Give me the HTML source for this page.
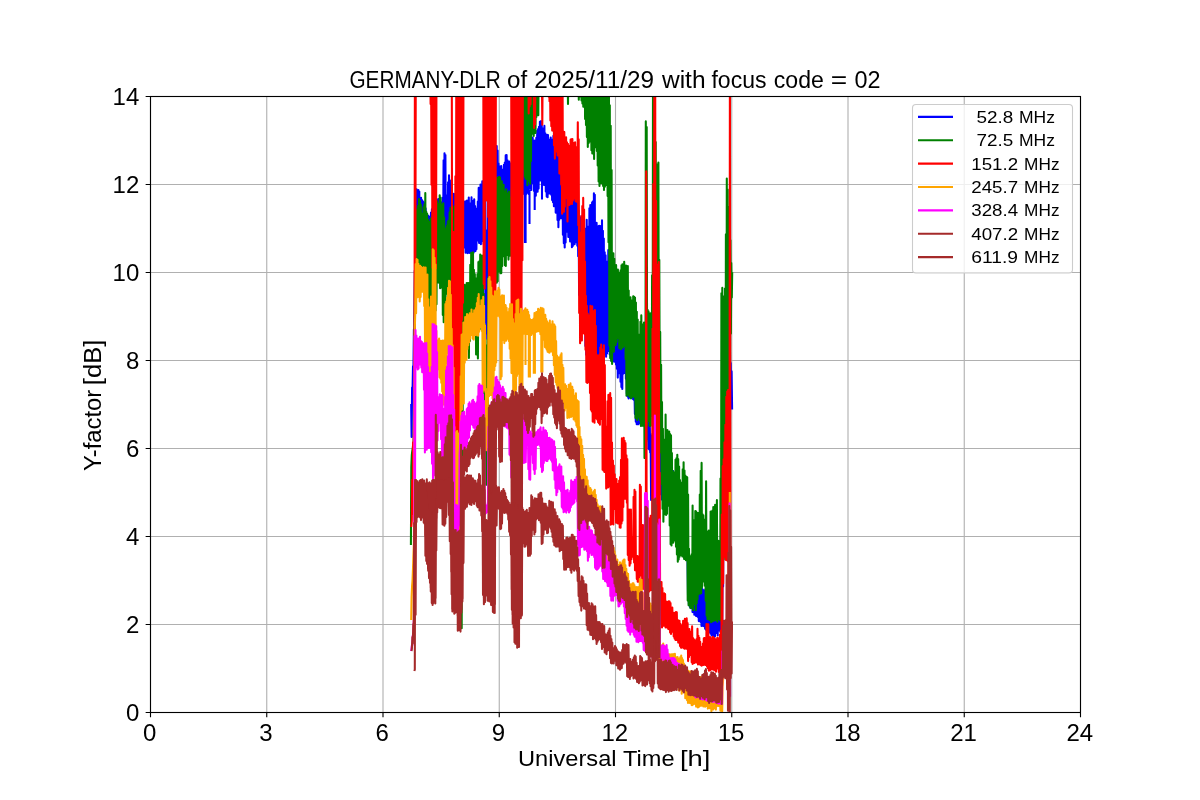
<!DOCTYPE html><html><head><meta charset="utf-8"><style>html,body{margin:0;padding:0;background:#fff}svg{display:block;position:absolute;left:0;top:0}text{font-family:"Liberation Sans",sans-serif;fill:#000}svg{will-change:transform}</style></head><body>
<svg width="1200" height="800" viewBox="0 0 1200 800">
<rect width="1200" height="800" fill="#fff"/>
<path d="M150.50 96.5V712.5M266.75 96.5V712.5M383.00 96.5V712.5M499.25 96.5V712.5M615.50 96.5V712.5M731.75 96.5V712.5M848.00 96.5V712.5M964.25 96.5V712.5M1080.50 96.5V712.5M150.5 712.50H1080.5M150.5 624.50H1080.5M150.5 536.50H1080.5M150.5 448.50H1080.5M150.5 360.50H1080.5M150.5 272.50H1080.5M150.5 184.50H1080.5M150.5 96.50H1080.5" stroke="#b0b0b0" stroke-width="1.11" fill="none"/>
<defs><clipPath id="c"><rect x="150.5" y="96.5" width="930" height="616"/></clipPath></defs>
<g clip-path="url(#c)" fill="none" stroke-width="2.08" stroke-linejoin="round" stroke-linecap="butt">
<path stroke="#0000ff" d="M411.2 404.0L411.6 437.0L412.1 387.5L412.5 393.0L413.0 366.2L413.4 371.7L413.9 329.4L414.3 358.4L414.8 270.7L415.2 274.4L415.7 189.6L416.1 234.1L416.6 189.3L417.0 231.9L417.5 192.6L417.9 235.8L418.4 190.1L418.8 236.4L419.3 191.6L419.7 234.8L420.2 202.4L420.6 237.7L421.1 197.9L421.5 236.3L422.0 200.0L422.4 238.9L422.9 201.2L423.3 238.9L423.8 202.4L424.2 236.2L424.7 205.3L425.1 237.6L425.6 208.4L426.0 232.1L426.5 213.6L426.9 234.7L427.4 215.3L427.8 234.8L428.3 215.9L428.7 235.9L429.2 217.4L429.6 235.4L430.1 216.5L430.5 235.7L431.0 212.5L431.4 237.8L431.9 209.4L432.3 233.9L432.8 211.9L433.2 233.3L433.7 206.1L434.1 239.3L434.6 204.4L435.0 239.4L435.5 208.1L435.9 239.7L436.4 201.3L436.8 232.0L437.3 200.0L437.7 233.5L438.2 199.1L438.6 238.0L439.1 199.4L439.5 237.9L440.0 203.6L440.4 236.6L440.9 202.5L441.3 236.2L441.8 202.3L442.2 230.8L442.7 197.8L443.1 229.6L443.6 160.3L444.0 235.0L444.5 153.2L444.9 235.6L445.4 155.1L445.8 231.8L446.3 195.3L446.7 224.6L447.2 199.8L447.6 222.5L448.1 182.2L448.5 219.0L449.0 175.2L449.4 214.6L449.9 180.3L450.3 215.4L450.8 190.9L451.2 229.7L451.7 190.8L452.1 225.4L452.6 196.0L453.0 227.4L453.5 193.9L453.9 234.5L454.4 194.3L454.8 235.9L455.3 194.4L455.7 237.3L456.2 196.9L456.6 238.6L457.1 203.6L457.5 235.3L458.0 196.9L458.4 232.6L458.9 196.7L459.3 242.2L459.8 197.5L460.2 242.4L460.7 198.6L461.1 244.0L461.6 204.1L462.0 238.7L462.5 202.4L462.9 241.3L463.4 201.9L463.8 241.8L464.3 203.9L464.7 247.6L465.2 201.3L465.6 252.8L466.1 201.7L466.5 249.9L467.0 200.6L467.4 253.1L467.9 200.9L468.3 251.2L468.8 197.6L469.2 252.9L469.7 203.4L470.1 242.7L470.6 206.3L471.0 253.0L471.5 197.4L471.9 253.9L472.4 200.7L472.8 249.0L473.3 203.5L473.7 252.6L474.2 199.2L474.6 250.2L475.1 206.1L475.5 251.1L476.0 208.6L476.4 249.3L476.9 210.4L477.3 240.5L477.8 201.5L478.2 240.0L478.7 187.9L479.1 242.9L479.6 193.1L480.0 238.8L480.5 184.5L480.9 244.3L481.4 184.8L481.8 234.1L482.3 181.4L482.7 240.9L483.2 184.3L483.6 244.1L484.1 192.0L484.5 244.4L485.0 190.0L485.4 322.5L485.9 232.1L486.3 333.4L486.8 230.3L487.2 339.0L487.7 199.3L488.1 245.0L488.6 194.9L489.0 236.2L489.5 189.0L489.9 234.2L490.4 182.5L490.8 229.8L491.3 175.1L491.7 221.3L492.2 167.6L492.6 217.0L493.1 170.2L493.5 212.3L494.0 159.2L494.4 204.4L494.9 154.9L495.3 198.1L495.8 146.2L496.2 199.9L496.7 146.0L497.1 193.1L497.6 150.5L498.0 199.8L498.5 163.5L498.9 196.7L499.4 166.4L499.8 194.8L500.3 168.3L500.7 199.2L501.2 166.1L501.6 199.2L502.1 173.9L502.5 199.4L503.0 169.6L503.4 195.2L503.9 164.9L504.3 197.6L504.8 162.5L505.2 198.9L505.7 155.4L506.1 198.9L506.6 155.1L507.0 194.4L507.5 160.3L507.9 197.2L508.4 165.5L508.8 199.4L509.3 161.5L509.7 200.0L510.2 163.3L510.6 192.3L511.1 172.3L511.5 196.3L512.0 172.1L512.4 197.2L512.9 165.7L513.3 196.8L513.8 163.9L514.2 194.0L514.7 164.2L515.1 194.2L515.6 169.4L516.0 197.1L516.5 164.6L516.9 193.8L517.4 167.3L517.8 193.0L518.3 162.8L518.7 193.7L519.2 161.8L519.6 193.8L520.1 167.9L520.5 188.4L521.0 161.0L521.4 192.6L521.9 163.3L522.3 194.2L522.8 166.8L523.2 193.8L523.7 158.8L524.1 193.0L524.6 158.4L525.0 190.6L525.5 160.5L525.9 195.0L526.4 156.4L526.8 192.8L527.3 152.3L527.7 192.0L528.2 149.8L528.6 193.9L529.1 155.3L529.5 188.6L530.0 148.6L530.4 183.3L530.9 144.4L531.3 189.9L531.8 138.1L532.2 182.9L532.7 137.6L533.1 180.7L533.6 142.6L534.0 191.0L534.5 140.6L534.9 194.4L535.4 141.7L535.8 195.7L536.3 137.8L536.7 186.9L537.2 130.8L537.6 191.8L538.1 129.1L538.6 188.6L539.0 126.9L539.5 174.0L539.9 121.7L540.4 180.5L540.8 121.2L541.3 178.3L541.7 121.5L542.2 185.1L542.6 132.2L543.1 182.8L543.5 128.2L544.0 184.9L544.4 125.9L544.9 179.7L545.3 133.2L545.8 191.5L546.2 138.9L546.7 196.6L547.1 134.7L547.6 197.2L548.0 135.1L548.5 189.4L548.9 139.9L549.4 193.5L549.8 139.5L550.3 183.2L550.7 137.5L551.2 194.8L551.6 144.7L552.1 200.1L552.5 139.5L553.0 202.2L553.4 135.9L553.9 206.2L554.3 146.0L554.8 204.7L555.2 143.2L555.7 212.6L556.1 150.8L556.6 211.6L557.0 155.3L557.5 220.0L557.9 148.6L558.4 227.3L558.8 149.5L559.3 219.8L559.7 151.7L560.2 218.2L560.6 159.4L561.1 209.9L561.5 163.1L562.0 218.5L562.4 171.7L562.9 234.7L563.3 178.0L563.8 243.2L564.2 183.5L564.7 247.5L565.1 177.7L565.6 242.4L566.0 187.0L566.5 229.9L566.9 181.1L567.4 231.8L567.8 185.6L568.3 236.9L568.7 185.2L569.2 236.4L569.6 187.6L570.1 241.5L570.5 190.1L571.0 240.7L571.4 196.0L571.9 247.3L572.3 194.6L572.8 245.9L573.2 194.8L573.7 236.0L574.1 203.1L574.6 244.2L575.0 197.1L575.5 242.2L575.9 199.5L576.4 234.7L576.8 197.8L577.3 245.8L577.7 203.4L578.2 256.3L578.6 210.6L579.1 295.0L579.5 216.0L580.0 306.7L580.4 226.8L580.9 311.9L581.3 217.5L581.8 319.3L582.2 223.4L582.7 323.6L583.1 220.6L583.6 321.4L584.0 229.8L584.5 332.6L584.9 229.4L585.4 345.9L585.8 228.5L586.3 354.8L586.7 219.7L587.2 352.7L587.6 226.5L588.1 356.6L588.5 230.4L589.0 357.9L589.4 208.2L589.9 352.7L590.3 205.1L590.8 359.7L591.2 206.5L591.7 359.2L592.1 202.4L592.6 361.2L593.0 201.4L593.5 360.3L593.9 193.2L594.4 360.9L594.8 194.7L595.3 364.3L595.7 231.4L596.2 357.7L596.6 222.7L597.1 367.3L597.5 233.8L598.0 357.3L598.4 226.4L598.9 362.3L599.3 225.9L599.8 362.4L600.2 226.0L600.7 357.0L601.1 227.2L601.6 357.1L602.0 220.4L602.5 361.2L602.9 230.9L603.4 355.2L603.8 238.5L604.3 353.1L604.7 252.3L605.2 353.6L605.6 255.2L606.1 356.7L606.5 261.5L607.0 353.5L607.4 265.1L607.9 350.9L608.3 250.0L608.8 349.5L609.2 250.9L609.7 354.5L610.1 252.5L610.6 357.5L611.0 261.0L611.5 360.7L611.9 270.1L612.4 360.3L612.8 285.1L613.3 361.4L613.7 287.8L614.2 358.5L614.6 305.9L615.1 362.0L615.5 305.0L616.0 364.5L616.4 307.3L616.9 368.7L617.3 312.1L617.8 377.6L618.2 315.8L618.7 372.3L619.1 326.7L619.6 373.3L620.0 326.5L620.5 381.7L620.9 328.0L621.4 387.1L621.8 332.8L622.3 388.9L622.7 332.8L623.2 373.8L623.6 338.7L624.1 370.8L624.5 340.5L625.0 373.1L625.4 342.3L625.9 378.7L626.3 351.9L626.8 393.5L627.2 361.7L627.7 396.6L628.1 366.7L628.6 398.4L629.0 367.0L629.5 397.5L629.9 374.3L630.4 396.2L630.8 372.5L631.3 395.8L631.7 376.8L632.2 396.2L632.6 377.6L633.1 399.3L633.5 380.2L634.0 400.0L634.4 387.3L634.9 414.1L635.3 400.8L635.8 421.6L636.2 403.4L636.7 424.2L637.1 401.6L637.6 424.1L638.0 402.6L638.5 424.2L638.9 407.1L639.4 423.3L639.8 408.5L640.3 422.7L640.7 408.5L641.2 422.7L641.6 407.2L642.1 425.0L642.5 408.7L643.0 424.9L643.4 410.8L643.9 425.0L644.3 410.4L644.8 426.3L645.2 410.4L645.7 434.2L646.1 405.8L646.6 432.5L647.0 404.0L647.5 439.2L647.9 409.9L648.4 448.8L648.8 404.7L649.3 449.4L649.7 417.0L650.2 452.5L650.6 435.5L651.1 500.1L651.5 470.6L652.0 467.7L652.4 433.7L652.9 439.6L653.3 395.2L653.8 406.0L654.2 364.4L654.7 375.6L655.1 327.4L655.6 343.3L656.0 294.7L656.5 335.6L656.9 307.3L657.4 366.0L657.8 344.9L658.3 415.6L658.7 383.9L659.2 459.1L659.6 422.5L660.1 491.3L660.5 449.0L661.0 494.5L661.4 447.3L661.9 499.6L662.3 449.3L662.8 497.2L663.2 453.4L663.7 499.8L664.1 453.2L664.6 501.6L665.0 453.6L665.5 493.9L665.9 457.0L666.4 499.3L666.8 467.6L667.3 502.8L667.7 463.3L668.2 502.1L668.6 464.1L669.1 501.6L669.5 469.1L670.0 496.9L670.4 471.3L670.9 503.9L671.3 474.5L671.8 477.4L672.2 471.1L672.7 476.8L673.1 471.0L673.6 512.9L674.0 483.4L674.5 521.2L674.9 484.3L675.4 529.1L675.8 490.7L676.3 533.4L676.7 494.3L677.2 532.9L677.6 493.0L678.1 538.9L678.5 496.2L679.0 539.2L679.4 504.4L679.9 543.9L680.3 502.1L680.8 542.8L681.2 504.0L681.7 549.7L682.1 508.2L682.6 550.8L683.0 515.3L683.5 554.2L683.9 518.4L684.4 547.1L684.8 521.2L685.3 555.5L685.7 519.1L686.2 551.2L686.6 532.6L687.1 558.5L687.5 555.3L688.0 595.1L688.4 563.5L688.9 604.2L689.3 562.1L689.8 606.7L690.2 561.7L690.7 608.0L691.1 563.6L691.6 605.6L692.0 563.8L692.5 612.1L692.9 566.8L693.4 608.1L693.8 567.2L694.3 614.7L694.7 569.1L695.2 613.0L695.6 573.8L696.1 616.1L696.5 572.3L697.0 613.7L697.4 579.7L697.9 617.0L698.3 583.1L698.8 621.1L699.2 579.6L699.7 621.1L700.1 585.0L700.6 622.0L701.0 588.6L701.5 625.9L701.9 588.3L702.4 625.1L702.8 589.6L703.3 626.1L703.7 591.7L704.2 625.9L704.6 590.3L705.1 628.7L705.5 589.3L706.0 629.8L706.4 598.6L706.9 627.1L707.3 600.1L707.8 631.4L708.2 593.9L708.7 632.3L709.1 594.9L709.6 630.7L710.0 604.2L710.5 633.5L710.9 598.6L711.4 635.1L711.8 599.7L712.3 636.0L712.7 605.4L713.2 632.9L713.6 601.1L714.1 636.7L714.5 604.6L715.0 636.3L715.4 607.4L715.9 629.4L716.3 606.0L716.8 633.0L717.2 608.1L717.7 635.5L718.1 610.1L718.6 630.4L719.0 605.9L719.5 630.0L719.9 604.0L720.4 631.9L720.8 604.4L721.3 628.5L721.7 592.8L722.2 624.0L722.6 562.4L723.1 586.4L723.5 505.0L724.0 532.3L724.4 413.0L724.9 496.8L725.3 394.8L725.8 463.7L726.2 340.7L726.7 424.1L727.1 304.1L727.6 406.7L728.0 301.4L728.5 388.2L728.9 309.6L729.4 383.1L729.8 327.6L730.3 390.2L730.7 363.0L731.2 395.8L731.6 371.4L732.1 409.4M524.9 190.0V243.0M525.6 190.0V243.0M529.5 190.0V224.0M534.7 188.0V210.0M542.0 180.0V199.5"/>
<path stroke="#008000" d="M410.9 545.0L411.3 466.7L411.8 455.0L412.2 451.6L412.7 448.3L413.1 444.9L413.6 441.5L414.0 405.0L414.5 342.0L414.9 282.4L415.4 229.5L415.8 223.0L416.3 210.1L416.7 265.4L417.2 209.2L417.6 262.6L418.1 205.7L418.5 264.9L419.0 199.1L419.4 266.5L419.9 200.7L420.3 272.0L420.8 204.5L421.2 261.7L421.7 213.6L422.1 272.1L422.6 219.3L423.0 272.7L423.5 207.0L423.9 272.3L424.4 204.4L424.8 274.1L425.3 193.0L425.7 275.4L426.2 211.5L426.6 278.2L427.1 213.5L427.5 283.5L428.0 219.7L428.4 302.9L428.9 221.7L429.3 310.6L429.8 233.7L430.2 300.1L430.7 218.5L431.1 299.6L431.6 217.9L432.0 293.4L432.5 213.3L432.9 285.3L433.4 217.6L433.8 289.5L434.3 209.0L434.7 304.1L435.2 205.9L435.6 310.4L436.1 207.3L436.5 304.3L437.0 201.3L437.4 280.6L437.9 204.8L438.3 282.6L438.8 203.5L439.2 281.6L439.7 195.2L440.1 288.3L440.6 197.5L441.0 287.6L441.5 207.8L441.9 285.9L442.4 204.6L442.8 315.0L443.3 203.2L443.7 322.2L444.2 217.2L444.6 314.7L445.1 240.3L445.5 307.7L446.0 228.2L446.4 290.2L446.9 225.6L447.3 293.7L447.8 221.2L448.2 299.9L448.7 220.5L449.1 297.7L449.6 212.3L450.0 299.2L450.5 207.8L450.9 307.6L451.4 209.1L451.8 386.0L452.3 215.9L452.7 468.0L453.2 210.6L453.6 476.0L454.1 206.3L454.5 475.2L455.0 221.0L455.4 469.0L455.9 247.5L456.3 447.0L456.8 274.3L457.2 463.4L457.7 288.7L458.1 512.7L458.6 281.5L459.0 571.6L459.5 280.0L459.9 619.5L460.4 290.4L460.8 627.3L461.3 280.7L461.7 628.3L462.2 285.2L462.6 435.0L463.1 283.1L463.5 327.7L464.0 284.7L464.4 323.3L464.9 285.0L465.3 327.1L465.8 290.3L466.2 329.5L466.7 283.1L467.1 329.8L467.6 283.4L468.0 332.4L468.5 283.0L468.9 358.0L469.4 285.9L469.8 341.1L470.3 264.8L470.7 320.0L471.2 252.8L471.6 329.9L472.1 259.6L472.5 329.2L473.0 252.4L473.4 329.4L473.9 269.9L474.3 323.2L474.8 274.0L475.2 328.9L475.7 279.6L476.1 354.5L476.6 278.2L477.0 351.1L477.5 274.1L477.9 358.5L478.4 262.1L478.8 324.2L479.3 261.2L479.7 329.3L480.2 254.5L480.6 320.6L481.1 259.2L481.5 325.1L482.0 255.5L482.4 323.2L482.9 273.5L483.3 363.5L483.8 293.9L484.2 409.9L484.7 324.9L485.1 452.3L485.6 340.0L486.0 484.7L486.5 345.2L486.9 484.6L487.4 355.9L487.8 435.8L488.3 278.1L488.7 302.3L489.2 205.5L489.6 277.3L490.1 196.5L490.5 276.1L491.0 193.8L491.4 279.8L491.9 191.0L492.3 280.1L492.8 194.3L493.2 272.8L493.7 189.1L494.1 274.0L494.6 184.2L495.0 282.8L495.5 186.0L495.9 277.7L496.4 177.9L496.8 282.7L497.3 180.3L497.7 281.3L498.2 177.6L498.6 268.9L499.1 177.1L499.5 271.5L500.0 177.6L500.4 273.3L500.9 185.2L501.3 273.1L501.8 181.2L502.2 266.1L502.7 184.7L503.1 255.3L503.6 184.8L504.0 256.3L504.5 193.8L504.9 265.3L505.4 191.4L505.8 266.0L506.3 189.4L506.7 255.1L507.2 194.6L507.6 248.7L508.1 193.2L508.5 259.6L509.0 191.5L509.4 252.7L509.9 199.2L510.3 255.8L510.8 197.6L511.2 253.4L511.7 188.7L512.1 245.9L512.6 176.2L513.0 237.1L513.5 169.6L513.9 231.3L514.4 156.9L514.8 230.1L515.3 148.1L515.7 217.6L516.2 135.6L516.6 208.8L517.1 133.6L517.5 206.7L518.0 120.3L518.4 199.8L518.9 105.8L519.3 195.6L519.8 95.6L520.2 193.7L520.7 86.8L521.1 188.6L521.6 86.2L522.0 174.4L522.5 69.9L522.9 169.0L523.4 62.4L523.8 169.3L524.3 60.6L524.7 176.5L525.2 63.0L525.6 178.8L526.1 61.1L526.5 178.3L527.0 61.7L527.4 185.2L527.9 64.7L528.3 180.8L528.8 68.4L529.2 178.4L529.7 62.3L530.1 183.8L530.6 68.0L531.0 161.1L531.5 60.0L531.9 133.8L532.4 60.2L532.8 129.5L533.3 60.0L533.7 135.9L534.2 61.7L534.6 130.9L535.1 61.0L535.5 132.9L536.0 69.9L536.4 116.9L536.9 60.0L537.4 112.5L537.8 60.3L538.3 115.2L538.7 61.0L539.2 78.6L539.6 61.8L540.1 79.8L540.5 60.6L541.0 80.0L541.4 60.3L541.9 79.3L542.3 61.6L542.8 79.1L543.2 61.9L543.7 76.9L544.1 60.5L544.6 77.9L545.0 63.8L545.5 75.8L545.9 60.0L546.4 77.4L546.8 60.9L547.3 79.9L547.7 63.5L548.2 78.7L548.6 62.1L549.1 79.8L549.5 60.2L550.0 79.7L550.4 60.9L550.9 80.0L551.3 61.9L551.8 76.0L552.2 64.3L552.7 79.8L553.1 60.0L553.6 78.6L554.0 60.3L554.5 78.0L554.9 62.2L555.4 76.7L555.8 60.3L556.3 76.6L556.7 62.9L557.2 75.9L557.6 64.3L558.1 79.5L558.5 61.3L559.0 78.3L559.4 61.6L559.9 75.7L560.3 62.3L560.8 79.4L561.2 60.1L561.7 77.4L562.1 60.0L562.6 77.8L563.0 61.6L563.5 80.0L563.9 60.7L564.4 78.3L564.8 60.1L565.3 80.0L565.7 61.8L566.2 79.2L566.6 61.1L567.1 83.0L567.5 60.4L568.0 103.9L568.4 61.6L568.9 80.0L569.3 61.3L569.8 79.9L570.2 64.4L570.7 78.3L571.1 61.0L571.6 79.0L572.0 60.4L572.5 79.9L572.9 60.0L573.4 79.7L573.8 61.6L574.3 77.8L574.7 61.9L575.2 79.6L575.6 62.4L576.1 77.5L576.5 63.6L577.0 78.7L577.4 60.1L577.9 83.6L578.3 62.7L578.8 99.7L579.2 64.3L579.7 92.8L580.1 60.0L580.6 96.4L581.0 66.2L581.5 100.5L581.9 60.3L582.4 103.5L582.8 60.1L583.3 106.8L583.7 66.0L584.2 106.0L584.6 64.8L585.1 119.0L585.5 60.7L586.0 125.1L586.4 61.2L586.9 137.1L587.3 61.9L587.8 147.0L588.2 60.9L588.7 143.0L589.1 60.4L589.6 138.3L590.0 64.2L590.5 141.5L590.9 60.7L591.4 150.2L591.8 60.4L592.3 153.4L592.7 64.2L593.2 151.6L593.6 63.3L594.1 158.9L594.5 67.0L595.0 147.2L595.4 60.0L595.9 139.7L596.3 66.5L596.8 151.0L597.2 63.4L597.7 165.5L598.1 60.5L598.6 181.5L599.0 63.0L599.5 185.9L599.9 60.6L600.4 183.3L600.8 68.6L601.3 172.5L601.7 60.0L602.2 183.4L602.6 63.6L603.1 186.0L603.5 67.2L604.0 190.0L604.4 65.9L604.9 186.7L605.3 60.5L605.8 185.0L606.2 65.9L606.7 175.1L607.1 61.4L607.6 196.1L608.0 68.3L608.5 242.2L608.9 60.1L609.4 345.6L609.8 105.3L610.3 358.2L610.7 125.7L611.2 360.9L611.6 170.1L612.1 364.0L612.5 257.3L613.0 348.3L613.4 253.4L613.9 351.6L614.3 258.8L614.8 341.2L615.2 270.8L615.7 345.0L616.1 265.1L616.6 342.1L617.0 273.6L617.5 337.9L617.9 269.5L618.4 336.4L618.8 280.1L619.3 348.3L619.7 272.5L620.2 347.6L620.6 270.4L621.1 349.2L621.5 265.2L622.0 347.7L622.4 264.4L622.9 347.5L623.3 265.6L623.8 344.8L624.2 261.8L624.7 345.6L625.1 268.9L625.6 358.9L626.0 265.5L626.5 395.8L626.9 267.8L627.4 394.8L627.8 266.1L628.3 394.4L628.7 290.5L629.2 396.4L629.6 306.8L630.1 397.0L630.5 297.3L631.0 398.4L631.4 302.5L631.9 397.2L632.3 300.2L632.8 389.1L633.2 296.3L633.7 396.2L634.1 296.7L634.6 397.6L635.0 297.6L635.5 418.0L635.9 302.6L636.4 416.8L636.8 311.8L637.3 420.1L637.7 319.6L638.2 417.6L638.6 342.1L639.1 416.6L639.5 334.5L640.0 420.2L640.4 321.8L640.9 426.0L641.3 315.4L641.8 425.6L642.2 324.7L642.7 425.8L643.1 324.2L643.6 418.7L644.0 322.6L644.5 458.0L644.9 330.8L645.4 458.2L645.8 121.4L646.3 441.6L646.7 127.0L647.2 425.8L647.6 309.7L648.1 417.5L648.5 311.2L649.0 421.0L649.4 314.7L649.9 426.0L650.3 313.4L650.8 425.7L651.2 327.6L651.7 415.9L652.1 275.2L652.6 414.6L653.0 70.3L653.5 419.9L653.9 76.2L654.4 411.2L654.8 106.0L655.3 417.5L655.7 142.1L656.2 419.8L656.6 168.2L657.1 417.1L657.5 164.3L658.0 418.2L658.4 162.6L658.9 419.4L659.3 259.9L659.8 419.8L660.2 331.9L660.7 452.5L661.1 364.7L661.6 484.1L662.0 402.1L662.5 508.7L662.9 428.8L663.4 521.8L663.8 440.2L664.3 514.2L664.7 439.5L665.2 513.0L665.6 414.5L666.1 515.0L666.5 433.0L667.0 513.8L667.4 430.1L667.9 503.6L668.3 439.4L668.8 505.7L669.2 431.6L669.7 525.4L670.1 434.0L670.6 544.2L671.0 435.3L671.5 545.5L671.9 453.1L672.4 540.1L672.8 471.1L673.3 542.6L673.7 472.3L674.2 539.3L674.6 473.9L675.1 540.5L675.5 459.7L676.0 546.7L676.4 458.4L676.9 554.5L677.3 454.8L677.8 561.8L678.2 459.1L678.7 559.4L679.1 466.5L679.6 556.7L680.0 480.0L680.5 548.7L680.9 486.5L681.4 555.1L681.8 482.6L682.3 556.4L682.7 469.4L683.2 550.2L683.6 462.2L684.1 558.9L684.5 470.6L685.0 557.4L685.4 475.5L685.9 560.2L686.3 476.7L686.8 555.6L687.2 477.3L687.7 600.6L688.1 494.5L688.6 605.3L689.0 548.7L689.5 598.4L689.9 556.2L690.4 608.1L690.8 556.1L691.3 606.1L691.7 554.3L692.2 607.9L692.6 505.5L693.1 610.2L693.5 521.2L694.0 598.4L694.4 520.1L694.9 604.0L695.3 511.0L695.8 610.3L696.2 511.6L696.7 603.2L697.1 512.9L697.6 599.3L698.0 516.9L698.5 594.3L698.9 512.7L699.4 587.3L699.8 494.6L700.3 593.6L700.7 470.8L701.2 593.2L701.6 462.9L702.1 587.1L702.5 514.2L703.0 581.4L703.4 515.4L703.9 579.6L704.3 519.5L704.8 585.7L705.2 520.9L705.7 600.8L706.1 481.3L706.6 615.6L707.0 539.0L707.5 618.9L707.9 531.5L708.4 609.7L708.8 530.5L709.3 619.9L709.7 534.3L710.2 620.0L710.6 511.6L711.1 622.3L711.5 516.1L712.0 621.5L712.4 510.6L712.9 621.3L713.3 507.1L713.8 614.7L714.2 516.6L714.7 620.5L715.1 504.9L715.6 612.8L716.0 509.8L716.5 620.3L716.9 500.1L717.4 621.8L717.8 540.5L718.3 618.7L718.7 541.1L719.2 619.0L719.6 550.5L720.1 620.5L720.5 478.6L721.0 611.2L721.4 293.2L721.9 590.4L722.3 287.9L722.8 576.9L723.2 296.3L723.7 559.4L724.1 296.3L724.6 537.9L725.0 288.6L725.5 476.7L725.9 234.3L726.4 460.6L726.8 178.6L727.3 469.8L727.7 189.6L728.2 437.0L728.6 206.8L729.1 407.0L729.5 220.2L730.0 370.6L730.4 240.3L730.9 333.6L731.3 263.0L731.8 297.6L732.2 272.2"/>
<path stroke="#ff0000" d="M411.3 527.0L411.8 520.6L412.2 479.9L412.6 514.1L413.1 442.3L413.5 457.1L414.0 423.6L414.4 414.3L414.9 67.2L415.3 296.2L415.8 60.0L416.2 60.0L416.7 60.0L417.1 60.0L417.6 60.0L418.0 60.0L418.5 60.0L418.9 60.0L419.4 60.0L419.8 60.0L420.3 60.0L420.7 60.0L421.2 60.0L421.6 60.0L422.1 60.0L422.5 60.0L423.0 60.0L423.4 60.0L423.9 60.0L424.3 60.0L424.8 60.0L425.2 60.0L425.7 60.0L426.1 60.0L426.6 60.0L427.0 60.0L427.5 60.0L427.9 60.0L428.4 60.0L428.8 60.0L429.3 60.0L429.7 93.8L430.2 67.4L430.6 104.1L431.1 65.7L431.5 184.7L432.0 68.6L432.4 267.7L432.9 60.1L433.3 280.2L433.8 63.2L434.2 290.0L434.7 69.7L435.1 285.4L435.6 68.6L436.0 268.5L436.5 60.0L436.9 60.0L437.4 60.0L437.8 60.0L438.3 60.0L438.7 60.0L439.2 60.0L439.6 60.0L440.1 60.0L440.5 60.0L441.0 60.0L441.4 60.0L441.9 60.0L442.3 60.0L442.8 60.0L443.2 60.0L443.7 60.0L444.1 60.0L444.6 60.0L445.0 60.0L445.5 60.0L445.9 60.0L446.4 60.0L446.8 60.0L447.3 60.0L447.7 60.0L448.2 60.0L448.6 60.0L449.1 60.0L449.5 60.0L450.0 60.0L450.4 60.0L450.9 60.0L451.3 60.0L451.8 69.9L452.2 356.6L452.7 235.7L453.1 380.6L453.6 232.1L454.0 411.0L454.5 236.1L454.9 432.7L455.4 176.3L455.8 447.6L456.3 61.3L456.7 451.5L457.2 66.0L457.6 450.6L458.1 60.4L458.5 448.3L459.0 65.8L459.4 449.1L459.9 60.3L460.3 409.3L460.8 65.2L461.2 355.9L461.7 60.1L462.1 319.7L462.6 61.2L463.0 302.7L463.5 60.0L463.9 60.0L464.4 60.0L464.8 60.0L465.3 60.0L465.7 60.0L466.2 60.0L466.6 60.0L467.1 60.0L467.5 60.0L468.0 60.0L468.4 60.0L468.9 60.0L469.3 60.0L469.8 60.0L470.2 60.0L470.7 60.0L471.1 60.0L471.6 60.0L472.0 60.0L472.5 60.0L472.9 60.0L473.4 60.0L473.8 60.0L474.3 60.0L474.7 60.0L475.2 60.0L475.6 60.0L476.1 60.0L476.5 60.0L477.0 60.0L477.4 60.0L477.9 60.0L478.3 60.0L478.8 60.0L479.2 60.0L479.7 60.0L480.1 60.0L480.6 60.0L481.0 60.0L481.5 60.0L481.9 60.0L482.4 60.0L482.8 60.0L483.3 66.9L483.7 283.9L484.2 65.5L484.6 288.6L485.1 66.3L485.5 200.6L486.0 70.9L486.4 192.1L486.9 60.2L487.3 200.8L487.8 60.6L488.2 216.9L488.7 65.8L489.1 297.6L489.6 65.3L490.0 296.0L490.5 70.7L490.9 301.5L491.4 62.3L491.8 297.7L492.3 60.0L492.7 302.8L493.2 60.0L493.6 303.6L494.1 67.0L494.5 302.9L495.0 63.9L495.4 304.3L495.9 60.0L496.3 60.0L496.8 60.0L497.2 60.0L497.7 60.0L498.1 60.0L498.6 60.0L499.0 60.0L499.5 60.0L499.9 60.0L500.4 60.0L500.8 60.0L501.3 60.0L501.7 60.0L502.2 60.0L502.6 60.0L503.1 60.0L503.5 60.0L504.0 60.0L504.4 60.0L504.9 60.0L505.3 60.0L505.8 60.0L506.2 60.0L506.7 60.0L507.1 60.0L507.6 60.0L508.0 60.0L508.5 60.0L508.9 60.0L509.4 60.0L509.8 60.0L510.3 60.0L510.7 60.0L511.2 60.0L511.6 328.8L512.1 70.7L512.5 329.7L513.0 70.2L513.4 326.7L513.9 60.0L514.3 329.5L514.8 61.5L515.2 329.8L515.7 60.7L516.1 329.6L516.6 62.9L517.0 322.2L517.5 66.4L517.9 323.4L518.4 65.8L518.8 319.9L519.3 66.5L519.7 329.5L520.2 60.9L520.6 330.0L521.1 61.8L521.5 321.9L522.0 60.4L522.4 260.2L522.9 60.0L523.3 60.0L523.8 60.0L524.2 60.0L524.7 60.0L525.1 60.0L525.6 60.0L526.0 60.0L526.5 60.0L526.9 60.0L527.4 60.0L527.8 60.0L528.3 60.0L528.7 113.5L529.2 64.7L529.6 106.5L530.1 64.3L530.5 104.3L531.0 60.0L531.4 60.0L531.9 60.0L532.3 60.0L532.8 60.0L533.2 60.0L533.7 68.5L534.1 128.0L534.6 60.1L535.0 124.5L535.5 66.6L535.9 60.0L536.4 60.0L536.9 60.0L537.3 60.0L537.8 60.0L538.2 60.0L538.7 60.0L539.1 60.0L539.6 60.0L540.0 60.0L540.5 60.0L540.9 60.0L541.4 94.1L541.8 67.0L542.3 124.7L542.7 67.5L543.2 75.0L543.6 60.0L544.1 60.0L544.5 60.0L545.0 60.0L545.4 60.0L545.9 60.0L546.3 60.0L546.8 60.0L547.2 60.0L547.7 77.5L548.1 60.1L548.6 96.6L549.0 60.4L549.5 101.2L549.9 63.2L550.4 120.5L550.8 69.0L551.3 126.2L551.7 60.3L552.2 130.6L552.6 60.0L553.1 127.8L553.5 60.7L554.0 145.2L554.4 65.6L554.9 158.6L555.3 60.2L555.8 150.9L556.2 60.3L556.7 151.5L557.1 61.9L557.6 155.5L558.0 61.2L558.5 149.9L558.9 62.0L559.4 173.5L559.8 61.2L560.3 166.7L560.7 67.0L561.2 184.5L561.6 64.4L562.1 213.7L562.5 60.1L563.0 210.1L563.4 131.6L563.9 211.8L564.3 132.0L564.8 206.6L565.2 140.7L565.7 198.1L566.1 137.3L566.6 188.8L567.0 142.3L567.5 221.4L567.9 143.8L568.4 199.2L568.8 146.8L569.3 204.9L569.7 145.5L570.2 204.1L570.6 139.6L571.1 199.0L571.5 139.3L572.0 203.9L572.4 139.1L572.9 200.4L573.3 142.7L573.8 193.9L574.2 147.2L574.7 198.4L575.1 142.3L575.6 201.1L576.0 149.3L576.5 201.7L576.9 147.0L577.4 196.1L577.8 122.3L578.3 225.3L578.7 139.4L579.2 313.0L579.6 234.1L580.1 343.3L580.5 232.6L581.0 337.8L581.4 216.1L581.9 340.4L582.3 206.1L582.8 329.5L583.2 197.9L583.7 332.9L584.1 209.6L584.6 334.3L585.0 261.6L585.5 349.7L585.9 295.9L586.4 382.2L586.8 305.7L587.3 382.9L587.7 313.5L588.2 382.3L588.6 322.0L589.1 382.3L589.5 315.4L590.0 393.0L590.4 305.8L590.9 409.7L591.3 315.9L591.8 411.5L592.2 306.2L592.7 421.6L593.1 311.1L593.6 411.8L594.0 311.4L594.5 422.7L594.9 310.0L595.4 418.2L595.8 325.9L596.3 418.0L596.7 354.7L597.2 419.4L597.6 360.9L598.1 422.3L598.5 355.9L599.0 423.3L599.4 354.5L599.9 424.8L600.3 347.5L600.8 418.9L601.2 344.5L601.7 417.6L602.1 349.4L602.6 469.7L603.0 354.3L603.5 470.6L603.9 345.2L604.4 471.9L604.8 365.0L605.3 471.2L605.7 427.1L606.2 488.6L606.6 426.5L607.1 484.5L607.5 401.2L608.0 487.4L608.4 394.9L608.9 479.9L609.3 398.9L609.8 486.5L610.2 393.0L610.7 524.7L611.1 397.7L611.6 524.0L612.0 442.6L612.5 521.4L612.9 460.6L613.4 524.5L613.8 465.5L614.3 508.9L614.7 474.3L615.2 506.0L615.6 481.6L616.1 522.7L616.5 479.0L617.0 522.6L617.4 483.7L617.9 523.4L618.3 487.3L618.8 518.6L619.2 480.5L619.7 527.5L620.1 477.1L620.6 527.7L621.0 459.9L621.5 523.4L621.9 438.3L622.4 520.7L622.8 439.9L623.3 506.9L623.7 437.7L624.2 492.9L624.6 440.8L625.1 498.6L625.5 443.1L626.0 495.3L626.4 455.2L626.9 502.8L627.3 459.1L627.8 554.9L628.2 510.1L628.7 560.1L629.1 509.5L629.6 565.8L630.0 513.0L630.5 563.4L630.9 509.5L631.4 559.3L631.8 537.3L632.3 556.7L632.7 536.9L633.2 556.0L633.6 496.7L634.1 562.5L634.5 489.7L635.0 570.3L635.4 491.5L635.9 570.6L636.3 557.8L636.8 579.1L637.2 556.1L637.7 581.8L638.1 556.6L638.6 581.6L639.0 559.5L639.5 580.7L639.9 484.7L640.4 575.4L640.8 486.5L641.3 570.5L641.7 530.4L642.2 584.0L642.6 525.0L643.1 588.9L643.5 530.4L644.0 586.0L644.4 525.1L644.9 586.1L645.3 530.2L645.8 595.0L646.2 171.4L646.7 593.3L647.1 515.8L647.6 585.9L648.0 517.8L648.5 591.9L648.9 518.3L649.4 591.2L649.8 523.2L650.3 587.8L650.7 515.8L651.2 589.9L651.6 520.5L652.1 590.0L652.5 328.7L653.0 589.1L653.4 184.1L653.9 585.9L654.3 63.3L654.8 589.6L655.2 67.3L655.7 579.0L656.1 200.9L656.6 588.6L657.0 271.6L657.5 586.6L657.9 264.6L658.4 586.4L658.8 262.1L659.3 582.1L659.7 472.8L660.2 623.5L660.6 588.8L661.1 622.7L661.5 582.0L662.0 627.5L662.4 588.0L662.9 625.0L663.3 596.0L663.8 625.7L664.2 593.4L664.7 624.4L665.1 594.1L665.6 627.4L666.0 601.5L666.5 625.4L666.9 601.7L667.4 627.7L667.8 603.8L668.3 629.1L668.7 601.3L669.2 623.1L669.6 601.5L670.1 632.4L670.5 603.0L671.0 634.0L671.4 609.1L671.9 631.7L672.3 607.5L672.8 630.1L673.2 615.2L673.7 636.5L674.1 612.7L674.6 638.6L675.0 613.3L675.5 640.0L675.9 612.1L676.4 640.0L676.8 612.2L677.3 640.0L677.7 619.9L678.2 642.6L678.6 621.8L679.1 642.2L679.5 620.7L680.0 646.0L680.4 623.7L680.9 647.6L681.3 626.5L681.8 647.6L682.2 625.3L682.7 643.6L683.1 620.9L683.6 647.9L684.0 624.6L684.5 648.7L684.9 618.8L685.4 644.4L685.8 619.8L686.3 648.8L686.7 618.4L687.2 647.6L687.6 623.0L688.1 661.1L688.5 630.9L689.0 657.1L689.4 629.0L689.9 650.4L690.3 631.5L690.8 655.1L691.2 636.8L691.7 662.2L692.1 626.2L692.6 664.0L693.0 638.0L693.5 661.4L693.9 639.3L694.4 662.9L694.8 640.4L695.3 660.7L695.7 641.4L696.2 662.5L696.6 639.1L697.1 660.8L697.5 628.8L698.0 664.4L698.4 635.7L698.9 662.7L699.3 637.7L699.8 664.5L700.2 641.8L700.7 665.0L701.1 647.1L701.6 665.6L702.0 646.9L702.5 665.3L702.9 643.6L703.4 664.9L703.8 638.2L704.3 660.8L704.7 638.1L705.2 665.0L705.6 640.4L706.1 664.1L706.5 624.0L707.0 666.6L707.4 624.5L707.9 668.2L708.3 624.3L708.8 670.6L709.2 637.3L709.7 670.5L710.1 637.0L710.6 669.9L711.0 640.9L711.5 668.6L711.9 638.1L712.4 669.1L712.8 636.8L713.3 669.7L713.7 638.3L714.2 669.3L714.6 638.1L715.1 670.5L715.5 642.6L716.0 671.8L716.4 639.2L716.9 666.7L717.3 637.9L717.8 668.4L718.2 638.3L718.7 671.9L719.1 638.3L719.6 669.8L720.0 634.6L720.5 672.1L720.9 630.6L721.4 670.5L721.8 514.6L722.3 671.8L722.7 466.1L723.2 583.6L723.6 459.3L724.1 554.7L724.5 442.2L725.0 557.3L725.4 424.8L725.9 560.0L726.3 396.8L726.8 558.3L727.2 391.5L727.7 561.2L728.1 390.1L728.6 575.2L729.0 390.2L729.5 555.5L729.9 63.7L730.4 554.4"/>
<path stroke="#ffa500" d="M411.2 620.0L411.6 596.8L412.1 585.6L412.5 580.6L413.0 568.6L413.4 555.7L413.9 542.9L414.3 458.3L414.8 329.0L415.2 314.1L415.7 264.0L416.1 313.3L416.6 259.0L417.0 297.5L417.5 259.7L417.9 294.0L418.4 263.9L418.8 297.1L419.3 266.4L419.7 301.4L420.2 265.8L420.6 296.9L421.1 266.7L421.5 290.9L422.0 268.0L422.4 291.7L422.9 267.9L423.3 291.0L423.8 267.3L424.2 306.1L424.7 269.1L425.1 363.2L425.6 267.5L426.0 400.1L426.5 279.1L426.9 417.3L427.4 274.5L427.8 412.5L428.3 299.2L428.7 418.7L429.2 314.5L429.6 419.4L430.1 307.3L430.5 411.4L431.0 296.6L431.4 419.6L431.9 297.2L432.3 419.7L432.8 249.3L433.2 416.8L433.7 250.2L434.1 414.4L434.6 257.9L435.0 419.9L435.5 264.5L435.9 420.0L436.4 330.9L436.8 399.8L437.3 341.5L437.7 363.6L438.2 340.4L438.6 369.2L439.1 338.6L439.5 377.3L440.0 343.1L440.4 378.7L440.9 340.9L441.3 382.7L441.8 342.4L442.2 391.6L442.7 340.6L443.1 401.0L443.6 347.2L444.0 404.7L444.5 340.3L444.9 391.2L445.4 304.0L445.8 373.9L446.3 301.5L446.7 362.9L447.2 297.6L447.6 353.0L448.1 287.8L448.5 351.1L449.0 280.9L449.4 359.0L449.9 281.2L450.3 356.2L450.8 294.9L451.2 388.6L451.7 328.7L452.1 386.3L452.6 345.3L453.0 392.0L453.5 367.7L453.9 481.5L454.4 426.9L454.8 540.3L455.3 441.0L455.7 536.8L456.2 432.3L456.6 541.0L457.1 431.0L457.5 537.8L458.0 433.4L458.4 542.6L458.9 440.9L459.3 542.9L459.8 440.4L460.2 473.7L460.7 376.3L461.1 403.4L461.6 334.8L462.0 409.6L462.5 334.1L462.9 399.6L463.4 322.5L463.8 403.5L464.3 324.6L464.7 362.8L465.2 317.0L465.6 354.8L466.1 317.0L466.5 359.7L467.0 314.0L467.4 348.9L467.9 315.0L468.3 345.3L468.8 320.1L469.2 342.3L469.7 313.2L470.1 338.8L470.6 316.2L471.0 334.9L471.5 309.5L471.9 334.9L472.4 313.6L472.8 338.7L473.3 314.4L473.7 339.6L474.2 310.4L474.6 334.7L475.1 311.0L475.5 335.0L476.0 308.1L476.4 332.5L476.9 303.0L477.3 335.4L477.8 297.8L478.2 335.6L478.7 294.0L479.1 331.8L479.6 305.9L480.0 324.0L480.5 306.0L480.9 326.9L481.4 300.3L481.8 330.9L482.3 302.8L482.7 392.0L483.2 296.9L483.6 389.6L484.1 305.7L484.5 389.2L485.0 325.2L485.4 391.9L485.9 388.8L486.3 450.2L486.8 416.9L487.2 447.3L487.7 412.5L488.1 389.5L488.6 278.5L489.0 396.3L489.5 277.1L489.9 394.0L490.4 281.2L490.8 394.9L491.3 287.5L491.7 394.1L492.2 295.5L492.6 398.4L493.1 296.4L493.5 408.1L494.0 297.1L494.4 370.2L494.9 291.3L495.3 366.0L495.8 293.8L496.2 362.4L496.7 291.2L497.1 316.1L497.6 290.5L498.0 315.7L498.5 287.9L498.9 313.2L499.4 289.6L499.8 317.4L500.3 297.5L500.7 379.2L501.2 296.3L501.6 376.4L502.1 295.2L502.5 333.7L503.0 296.6L503.4 339.9L503.9 295.6L504.3 343.1L504.8 304.7L505.2 339.4L505.7 305.4L506.1 340.8L506.6 307.7L507.0 338.7L507.5 312.0L507.9 336.8L508.4 312.5L508.8 341.1L509.3 308.5L509.7 348.7L510.2 304.1L510.6 358.4L511.1 310.1L511.5 373.1L512.0 304.2L512.4 372.7L512.9 319.1L513.3 399.0L513.8 323.4L514.2 400.9L514.7 329.6L515.1 401.0L515.6 314.1L516.0 390.0L516.5 300.7L516.9 376.1L517.4 300.1L517.8 372.7L518.3 299.6L518.7 373.6L519.2 314.0L519.6 394.6L520.1 320.8L520.5 396.1L521.0 308.7L521.4 390.1L521.9 312.2L522.3 398.3L522.8 312.9L523.2 332.3L523.7 310.9L524.1 333.6L524.6 309.5L525.0 332.8L525.5 308.2L525.9 330.2L526.4 310.5L526.8 334.0L527.3 309.8L527.7 334.1L528.2 311.9L528.6 334.3L529.1 315.0L529.5 333.6L530.0 319.1L530.4 330.7L530.9 319.7L531.3 334.9L531.8 321.2L532.2 333.5L532.7 319.8L533.1 331.4L533.6 318.6L534.0 335.0L534.5 313.1L534.9 333.6L535.4 314.0L535.8 330.1L536.3 312.0L536.7 331.8L537.2 311.7L537.6 331.1L538.1 308.9L538.6 331.1L539.0 309.5L539.5 331.4L539.9 311.0L540.4 334.3L540.8 307.7L541.3 334.0L541.7 311.3L542.2 332.2L542.6 308.3L543.1 332.7L543.5 309.0L544.0 339.8L544.4 318.8L544.9 347.1L545.3 314.9L545.8 347.8L546.2 318.9L546.7 349.6L547.1 321.3L547.6 351.7L548.0 323.0L548.5 352.2L548.9 324.4L549.4 352.8L549.8 320.5L550.3 350.0L550.7 324.6L551.2 351.5L551.6 324.4L552.1 351.2L552.5 321.2L553.0 355.3L553.4 324.2L553.9 365.3L554.3 324.5L554.8 374.7L555.2 326.4L555.7 382.3L556.1 341.0L556.6 384.8L557.0 355.6L557.5 387.9L557.9 358.3L558.4 392.1L558.8 357.4L559.3 394.0L559.7 357.4L560.2 395.5L560.6 355.1L561.1 400.0L561.5 353.3L562.0 400.4L562.4 364.7L562.9 403.1L563.3 367.8L563.8 402.9L564.2 386.7L564.7 410.6L565.1 384.3L565.6 406.9L566.0 385.7L566.5 407.7L566.9 388.8L567.4 418.0L567.8 389.2L568.3 413.2L568.7 384.7L569.2 417.6L569.6 388.3L570.1 409.0L570.5 383.4L571.0 416.9L571.4 386.6L571.9 415.7L572.3 386.9L572.8 416.2L573.2 389.7L573.7 419.4L574.1 395.5L574.6 419.1L575.0 397.3L575.5 421.4L575.9 393.3L576.4 425.4L576.8 399.9L577.3 427.3L577.7 400.9L578.2 437.5L578.6 401.6L579.1 453.2L579.5 427.0L580.0 492.6L580.4 436.8L580.9 494.7L581.3 439.2L581.8 495.6L582.2 445.8L582.7 491.7L583.1 454.9L583.6 496.0L584.0 458.9L584.5 499.8L584.9 469.3L585.4 500.0L585.8 476.5L586.3 507.0L586.7 476.9L587.2 505.5L587.6 480.3L588.1 509.7L588.5 486.0L589.0 512.4L589.4 488.6L589.9 513.6L590.3 488.0L590.8 509.6L591.2 489.6L591.7 515.9L592.1 492.4L592.6 510.8L593.0 493.2L593.5 518.1L593.9 491.1L594.4 513.8L594.8 489.9L595.3 517.9L595.7 494.9L596.2 524.8L596.6 499.9L597.1 524.1L597.5 504.2L598.0 527.4L598.4 506.2L598.9 530.5L599.3 508.0L599.8 536.0L600.2 506.4L600.7 537.2L601.1 507.1L601.6 541.7L602.0 511.3L602.5 545.5L602.9 521.6L603.4 552.6L603.8 528.9L604.3 561.6L604.7 541.4L605.2 569.5L605.6 548.0L606.1 571.1L606.5 547.8L607.0 568.1L607.4 549.4L607.9 574.2L608.3 550.3L608.8 574.9L609.2 549.6L609.7 574.8L610.1 545.3L610.6 572.8L611.0 543.6L611.5 574.6L611.9 549.0L612.4 577.3L612.8 545.9L613.3 580.3L613.7 547.9L614.2 579.1L614.6 551.2L615.1 581.9L615.5 555.3L616.0 591.4L616.4 564.9L616.9 593.9L617.3 559.5L617.8 590.4L618.2 564.7L618.7 591.7L619.1 567.2L619.6 598.5L620.0 562.3L620.5 596.1L620.9 563.4L621.4 600.0L621.8 564.1L622.3 601.5L622.7 561.1L623.2 600.2L623.6 559.9L624.1 600.2L624.5 559.5L625.0 596.3L625.4 565.0L625.9 601.7L626.3 568.7L626.8 607.1L627.2 573.1L627.7 611.7L628.1 573.8L628.6 616.7L629.0 580.9L629.5 619.5L629.9 588.8L630.4 620.8L630.8 584.4L631.3 621.8L631.7 584.2L632.2 620.5L632.6 583.2L633.1 620.6L633.5 583.4L634.0 621.8L634.4 585.1L634.9 624.9L635.3 588.7L635.8 621.4L636.2 587.1L636.7 624.0L637.1 591.4L637.6 619.7L638.0 587.0L638.5 619.2L638.9 587.6L639.4 628.0L639.8 579.1L640.3 621.5L640.7 580.7L641.2 626.9L641.6 579.8L642.1 621.1L642.5 592.7L643.0 628.3L643.4 593.4L643.9 635.3L644.3 599.6L644.8 630.2L645.2 600.3L645.7 637.1L646.1 605.6L646.6 638.3L647.0 605.4L647.5 638.6L647.9 609.3L648.4 641.2L648.8 607.3L649.3 640.4L649.7 603.7L650.2 643.1L650.6 603.6L651.1 647.9L651.5 605.8L652.0 643.7L652.4 610.6L652.9 648.5L653.3 611.4L653.8 649.5L654.2 608.9L654.7 642.1L655.1 614.5L655.6 648.3L656.0 616.6L656.5 653.8L656.9 622.5L657.4 655.8L657.8 634.0L658.3 654.4L658.7 634.3L659.2 661.0L659.6 640.9L660.1 663.6L660.5 644.8L661.0 665.7L661.4 646.3L661.9 666.2L662.3 645.6L662.8 663.3L663.2 643.6L663.7 666.1L664.1 645.6L664.6 668.5L665.0 646.9L665.5 669.8L665.9 649.6L666.4 667.9L666.8 652.6L667.3 671.5L667.7 653.8L668.2 672.5L668.6 654.8L669.1 670.3L669.5 654.3L670.0 675.5L670.4 655.2L670.9 676.3L671.3 654.2L671.8 674.8L672.2 655.6L672.7 679.9L673.1 654.0L673.6 679.9L674.0 657.0L674.5 679.8L674.9 653.7L675.4 681.3L675.8 660.2L676.3 683.4L676.7 657.2L677.2 683.7L677.6 657.1L678.1 685.6L678.5 658.5L679.0 690.4L679.4 658.6L679.9 686.0L680.3 657.0L680.8 689.4L681.2 655.6L681.7 693.7L682.1 658.0L682.6 687.0L683.0 660.0L683.5 691.4L683.9 663.6L684.4 690.9L684.8 670.4L685.3 698.2L685.7 672.3L686.2 694.2L686.6 667.9L687.1 700.3L687.5 674.3L688.0 702.9L688.4 670.8L688.9 697.1L689.3 671.5L689.8 703.0L690.2 671.6L690.7 703.0L691.1 673.7L691.6 705.1L692.0 672.0L692.5 705.1L692.9 672.5L693.4 704.2L693.8 675.3L694.3 702.4L694.7 673.6L695.2 704.0L695.6 680.4L696.1 706.6L696.5 676.3L697.0 705.3L697.4 676.2L697.9 707.4L698.3 676.4L698.8 706.9L699.2 678.0L699.7 706.0L700.1 677.0L700.6 705.7L701.0 677.4L701.5 705.6L701.9 677.9L702.4 705.3L702.8 679.2L703.3 706.4L703.7 680.4L704.2 701.8L704.6 679.7L705.1 706.8L705.5 680.7L706.0 705.9L706.4 681.8L706.9 705.6L707.3 681.1L707.8 708.6L708.2 686.5L708.7 704.2L709.1 682.8L709.6 708.3L710.0 682.5L710.5 706.6L710.9 687.0L711.4 711.3L711.8 684.6L712.3 708.4L712.7 683.2L713.2 709.4L713.6 684.8L714.1 708.3L714.5 687.6L715.0 708.2L715.4 686.6L715.9 709.6L716.3 684.1L716.8 706.3L717.2 684.5L717.7 705.7L718.1 684.2L718.6 706.0L719.0 689.0L719.5 705.4L719.9 688.0L720.4 710.8L720.8 687.3L721.3 710.6L721.7 688.8L722.2 711.3L722.6 686.7L723.1 679.8L723.5 640.8L724.0 669.2L724.4 642.5L724.9 669.6L725.3 641.9L725.8 669.8L726.2 644.3L726.7 669.3L727.1 645.4L727.6 665.2L728.0 646.0L728.5 664.0L728.9 571.6L729.4 692.9L729.8 491.9M525.5 330.0V365.0M528.8 330.0V377.5M529.9 330.0V377.5M533.8 330.0V373.8M534.9 330.0V373.8M541.3 330.0V372.5M542.4 330.0V372.5"/>
<path stroke="#ff00ff" d="M411.0 651.0L411.4 649.2L411.9 645.1L412.3 645.1L412.8 635.4L413.2 639.6L413.7 622.0L414.1 618.3L414.6 336.1L415.0 489.7L415.5 330.0L415.9 367.2L416.4 335.6L416.8 365.6L417.3 339.4L417.7 369.4L418.2 338.5L418.6 368.6L419.1 340.1L419.5 364.6L420.0 336.7L420.4 362.0L420.9 341.0L421.3 367.5L421.8 341.7L422.2 372.3L422.7 343.3L423.1 368.5L423.6 344.3L424.0 389.7L424.5 343.3L424.9 452.5L425.4 349.0L425.8 449.1L426.3 343.0L426.7 449.7L427.2 353.5L427.6 445.1L428.1 367.1L428.5 447.9L429.0 372.7L429.4 447.8L429.9 382.4L430.3 447.5L430.8 372.7L431.2 452.2L431.7 366.9L432.1 463.7L432.6 324.1L433.0 478.8L433.5 328.3L433.9 475.5L434.4 324.5L434.8 447.3L435.3 327.4L435.7 449.3L436.2 326.1L436.6 439.6L437.1 352.0L437.5 440.4L438.0 403.3L438.4 431.0L438.9 397.1L439.3 421.4L439.8 394.2L440.2 422.7L440.7 397.5L441.1 439.3L441.6 395.0L442.0 456.2L442.5 395.5L442.9 463.6L443.4 412.5L443.8 458.1L444.3 408.9L444.7 457.3L445.2 396.8L445.6 448.7L446.1 370.4L446.5 439.9L447.0 366.8L447.4 447.7L447.9 356.2L448.3 443.3L448.8 346.0L449.2 441.6L449.7 348.0L450.1 451.6L450.6 346.1L451.0 453.8L451.5 348.5L451.9 454.4L452.4 347.3L452.8 454.6L453.3 395.1L453.7 562.7L454.2 409.5L454.6 567.9L455.1 507.9L455.5 567.5L456.0 505.0L456.4 567.3L456.9 505.3L457.3 567.7L457.8 506.7L458.2 535.1L458.7 506.3L459.1 525.4L459.6 454.4L460.0 447.6L460.5 421.5L460.9 450.0L461.4 415.5L461.8 448.7L462.3 412.6L462.7 444.4L463.2 414.6L463.6 449.5L464.1 411.7L464.5 448.5L465.0 416.0L465.4 449.0L465.9 416.0L466.3 444.4L466.8 409.0L467.2 446.7L467.7 407.9L468.1 438.6L468.6 403.8L469.0 437.4L469.5 402.4L469.9 430.5L470.4 404.1L470.8 424.0L471.3 407.5L471.7 421.0L472.2 400.6L472.6 425.3L473.1 399.7L473.5 427.6L474.0 401.7L474.4 426.5L474.9 403.6L475.3 432.3L475.8 404.1L476.2 433.9L476.7 402.4L477.1 441.5L477.6 396.4L478.0 438.7L478.5 385.5L478.9 445.0L479.4 384.0L479.8 442.2L480.3 395.7L480.7 444.7L481.2 385.6L481.6 440.3L482.1 386.1L482.5 438.3L483.0 394.4L483.4 436.2L483.9 400.8L484.3 444.1L484.8 505.4L485.2 513.9L485.7 505.4L486.1 513.0L486.6 506.7L487.0 512.3L487.5 505.0L487.9 501.8L488.4 426.7L488.8 450.0L489.3 408.0L489.7 449.5L490.2 410.1L490.6 449.8L491.1 404.3L491.5 445.9L492.0 402.0L492.4 591.2L492.9 410.1L493.3 447.5L493.8 392.7L494.2 428.8L494.7 387.2L495.1 411.3L495.6 377.5L496.0 415.7L496.5 376.7L496.9 414.0L497.4 379.7L497.8 420.7L498.3 381.7L498.7 421.3L499.2 382.6L499.6 418.5L500.1 385.2L500.5 422.9L501.0 388.2L501.4 422.7L501.9 390.4L502.3 419.8L502.8 386.9L503.2 425.0L503.7 389.0L504.1 425.5L504.6 392.8L505.0 426.5L505.5 393.0L505.9 424.5L506.4 399.1L506.8 427.8L507.3 403.1L507.7 423.1L508.2 402.8L508.6 429.2L509.1 399.8L509.5 454.6L510.0 400.6L510.4 455.6L510.9 407.4L511.3 477.4L511.8 406.3L512.2 528.2L512.7 416.7L513.1 590.1L513.6 428.0L514.0 624.4L514.5 420.2L514.9 617.3L515.4 426.7L515.8 594.1L516.3 423.3L516.7 564.9L517.2 422.1L517.6 534.9L518.1 420.0L518.5 502.6L519.0 427.2L519.4 474.6L519.9 422.6L520.3 456.8L520.8 418.9L521.2 453.6L521.7 416.0L522.1 456.0L522.6 414.6L523.0 457.6L523.5 418.4L523.9 463.0L524.4 418.8L524.8 461.4L525.3 413.8L525.7 462.2L526.2 433.9L526.6 444.8L527.1 430.0L527.5 444.9L528.0 437.9L528.4 469.3L528.9 430.7L529.3 479.3L529.8 433.8L530.2 479.8L530.7 431.6L531.1 454.4L531.6 433.6L532.0 445.0L532.5 433.2L532.9 463.1L533.4 434.5L533.8 469.7L534.3 436.3L534.7 474.0L535.2 437.8L535.6 469.1L536.1 432.4L536.5 443.5L537.0 432.0L537.5 445.0L537.9 430.4L538.4 444.4L538.8 429.8L539.3 441.8L539.7 429.0L540.2 446.4L540.6 427.2L541.1 467.0L541.5 432.4L542.0 471.9L542.4 431.5L542.9 470.6L543.3 427.5L543.8 463.0L544.2 431.2L544.7 460.2L545.1 430.2L545.6 454.4L546.0 430.7L546.5 461.0L546.9 432.9L547.4 460.9L547.8 437.8L548.3 459.1L548.7 438.0L549.2 458.5L549.6 437.9L550.1 456.9L550.5 440.1L551.0 459.9L551.4 439.4L551.9 461.8L552.3 440.0L552.8 470.2L553.2 443.5L553.7 470.7L554.1 441.2L554.6 479.7L555.0 446.9L555.5 488.3L555.9 459.1L556.4 495.3L556.8 468.1L557.3 492.3L557.7 467.2L558.2 488.5L558.6 466.4L559.1 486.5L559.5 464.4L560.0 489.3L560.4 466.6L560.9 490.9L561.3 466.5L561.8 506.9L562.2 476.6L562.7 508.6L563.1 476.2L563.6 512.3L564.0 482.2L564.5 510.8L564.9 493.6L565.4 511.5L565.8 490.7L566.3 512.6L566.7 490.6L567.2 509.4L567.6 489.7L568.1 510.1L568.5 493.6L569.0 512.5L569.4 493.1L569.9 510.9L570.3 490.8L570.8 507.2L571.2 480.3L571.7 505.1L572.1 483.7L572.6 504.3L573.0 481.8L573.5 503.5L573.9 483.6L574.4 502.4L574.8 479.7L575.3 498.5L575.7 480.3L576.2 498.3L576.6 477.1L577.1 501.4L577.5 492.8L578.0 544.9L578.4 508.0L578.9 555.6L579.3 515.7L579.8 555.0L580.2 523.8L580.7 545.5L581.1 522.5L581.6 547.1L582.0 518.5L582.5 541.4L582.9 518.6L583.4 546.7L583.8 520.0L584.3 549.7L584.7 525.6L585.2 548.8L585.6 520.2L586.1 549.6L586.5 525.6L587.0 551.2L587.4 522.1L587.9 560.8L588.3 529.0L588.8 557.3L589.2 526.8L589.7 552.8L590.1 531.9L590.6 551.8L591.0 530.3L591.5 554.9L591.9 530.9L592.4 554.7L592.8 534.2L593.3 554.7L593.7 536.1L594.2 557.1L594.6 535.1L595.1 567.7L595.5 535.8L596.0 568.9L596.4 539.5L596.9 569.7L597.3 539.7L597.8 569.1L598.2 538.8L598.7 568.0L599.1 537.7L599.6 566.4L600.0 539.7L600.5 565.6L600.9 540.9L601.4 560.8L601.8 544.3L602.3 571.5L602.7 553.3L603.2 578.9L603.6 547.6L604.1 574.4L604.5 551.9L605.0 581.1L605.4 551.4L605.9 581.1L606.3 555.0L606.8 582.5L607.2 561.1L607.7 586.0L608.1 561.5L608.6 586.1L609.0 559.7L609.5 583.5L609.9 563.4L610.4 596.0L610.8 571.7L611.3 600.6L611.7 569.8L612.2 594.7L612.6 571.6L613.1 600.7L613.5 572.4L614.0 596.1L614.4 574.7L614.9 593.4L615.3 576.9L615.8 594.9L616.2 579.8L616.7 593.8L617.1 582.9L617.6 600.6L618.0 583.5L618.5 606.5L618.9 584.5L619.4 606.1L619.8 587.6L620.3 603.9L620.7 585.7L621.2 603.4L621.6 588.8L622.1 602.0L622.5 588.9L623.0 599.8L623.4 590.9L623.9 606.5L624.3 592.0L624.8 613.2L625.2 597.1L625.7 619.0L626.1 599.5L626.6 625.7L627.0 602.3L627.5 630.5L627.9 604.4L628.4 631.7L628.8 607.7L629.3 629.1L629.7 610.3L630.2 634.6L630.6 612.5L631.1 629.8L631.5 614.6L632.0 631.8L632.4 614.9L632.9 631.0L633.3 616.8L633.8 634.8L634.2 621.8L634.7 636.7L635.1 620.1L635.6 636.8L636.0 625.1L636.5 641.6L636.9 625.5L637.4 639.2L637.8 626.8L638.3 642.2L638.7 626.7L639.2 638.2L639.6 625.7L640.1 641.0L640.5 628.8L641.0 640.9L641.4 629.1L641.9 640.3L642.3 628.3L642.8 642.7L643.2 629.9L643.7 650.0L644.1 634.5L644.6 650.7L645.0 493.2L645.5 650.1L645.9 493.0L646.4 643.9L646.8 493.2L647.3 641.9L647.7 500.9L648.2 654.4L648.6 630.5L649.1 655.5L649.5 630.3L650.0 653.7L650.4 633.7L650.9 656.4L651.3 635.8L651.8 656.2L652.2 631.8L652.7 657.5L653.1 632.1L653.6 657.3L654.0 630.1L654.5 656.2L654.9 415.6L655.4 656.1L655.8 519.7L656.3 657.9L656.7 523.4L657.2 654.0L657.6 526.4L658.1 648.7L658.5 525.3L659.0 653.7L659.4 519.5L659.9 653.0L660.3 645.0L660.8 658.0L661.2 647.8L661.7 659.6L662.1 646.0L662.6 658.1L663.0 645.1L663.5 660.0L663.9 648.2L664.4 659.4L664.8 646.2L665.3 658.7L665.7 646.8L666.2 659.7L666.6 645.0L667.1 659.5L667.5 649.5L668.0 662.6L668.4 654.7L668.9 665.6L669.3 658.0L669.8 666.5L670.2 658.3L670.7 666.7L671.1 659.1L671.6 667.0L672.0 658.1L672.5 667.4L672.9 658.0L673.4 666.4L673.8 658.3L674.3 666.7L674.7 658.8L675.2 668.8L675.6 660.1L676.1 670.4L676.5 663.0L677.0 671.7L677.4 663.0L677.9 675.1L678.3 664.0L678.8 677.0L679.2 664.1L679.7 677.3L680.1 665.3L680.6 678.8L681.0 666.5L681.5 681.3L681.9 666.9L682.4 681.6L682.8 667.9L683.3 682.4L683.7 670.3L684.2 682.2L684.6 672.2L685.1 683.5L685.5 673.3L686.0 685.0L686.4 671.9L686.9 684.0L687.3 674.9L687.8 687.7L688.2 674.4L688.7 687.6L689.1 676.4L689.6 687.5L690.0 677.3L690.5 687.7L690.9 676.9L691.4 691.3L691.8 677.7L692.3 692.4L692.7 679.3L693.2 693.8L693.6 678.2L694.1 694.6L694.5 678.3L695.0 696.4L695.4 679.2L695.9 697.5L696.3 680.8L696.8 695.6L697.2 682.0L697.7 696.7L698.1 680.4L698.6 695.6L699.0 680.3L699.5 697.6L699.9 681.1L700.4 699.0L700.8 682.2L701.3 698.2L701.7 682.4L702.2 699.1L702.6 683.2L703.1 699.4L703.5 683.8L704.0 697.6L704.4 685.6L704.9 698.8L705.3 686.2L705.8 699.8L706.2 685.9L706.7 700.4L707.1 686.5L707.6 700.6L708.0 687.8L708.5 699.2L708.9 686.6L709.4 700.2L709.8 687.5L710.3 701.3L710.7 686.9L711.2 701.3L711.6 687.8L712.1 700.7L712.5 688.7L713.0 701.9L713.4 690.9L713.9 699.5L714.3 690.9L714.8 701.1L715.2 690.9L715.7 702.4L716.1 691.8L716.6 701.4L717.0 689.0L717.5 703.2L717.9 690.2L718.4 703.4L718.8 690.2L719.3 703.5L719.7 692.9L720.2 702.8L720.6 690.7L721.1 703.8L721.5 690.2L722.0 703.8L722.4 651.3L722.9 667.6L723.3 643.1L723.8 669.1L724.2 642.3L724.7 669.7L725.1 642.0L725.6 668.3L726.0 644.1L726.5 665.5L726.9 640.3L727.4 667.9L727.8 640.2L728.3 666.0L728.7 625.1L729.2 690.1L729.6 503.2L730.1 696.8"/>
<path stroke="#a52a2a" d="M411.5 651.0L411.9 648.3L412.4 637.1L412.8 643.5L413.3 624.0L413.7 630.5L414.2 523.1L414.6 607.9L415.1 480.0L415.5 538.4L416.0 480.0L416.4 505.0L416.9 484.7L417.3 507.5L417.8 483.5L418.2 511.4L418.7 482.3L419.1 511.7L419.6 480.8L420.0 505.4L420.5 480.1L420.9 506.3L421.4 483.2L421.8 505.8L422.3 479.2L422.7 508.8L423.2 480.9L423.6 505.7L424.1 480.6L424.5 523.6L425.0 483.5L425.4 555.7L425.9 485.0L426.3 560.9L426.8 479.4L427.2 564.0L427.7 483.0L428.1 568.5L428.6 485.3L429.0 577.0L429.5 482.3L429.9 575.7L430.4 483.3L430.8 591.5L431.3 489.1L431.7 591.9L432.2 480.6L432.6 605.0L433.1 480.1L433.5 601.5L434.0 480.1L434.4 595.9L434.9 482.0L435.3 603.5L435.8 414.9L436.2 518.2L436.7 424.5L437.1 485.0L437.6 452.4L438.0 481.3L438.5 457.5L438.9 483.2L439.4 454.4L439.8 485.0L440.3 452.0L440.7 478.7L441.2 459.3L441.6 484.8L442.1 457.5L442.5 484.8L443.0 457.2L443.4 482.6L443.9 459.5L444.3 484.3L444.8 444.4L445.2 484.4L445.7 437.4L446.1 482.6L446.6 437.5L447.0 481.5L447.5 425.8L447.9 483.0L448.4 423.3L448.8 483.8L449.3 415.5L449.7 481.5L450.2 422.5L450.6 483.7L451.1 415.3L451.5 571.6L452.0 419.2L452.4 611.4L452.9 482.4L453.3 605.2L453.8 531.4L454.2 603.4L454.7 537.2L455.1 612.7L455.6 535.5L456.0 612.2L456.5 542.6L456.9 604.6L457.4 532.8L457.8 630.8L458.3 534.1L458.7 629.9L459.2 538.4L459.6 628.8L460.1 530.4L460.5 631.6L461.0 444.8L461.4 612.4L461.9 456.5L462.3 598.4L462.8 458.1L463.2 562.5L463.7 450.2L464.1 474.5L464.6 447.5L465.0 470.3L465.5 451.2L465.9 468.3L466.4 450.0L466.8 471.4L467.3 448.6L467.7 466.2L468.2 445.8L468.6 466.0L469.1 442.7L469.5 464.3L470.0 441.3L470.4 458.2L470.9 438.2L471.3 456.6L471.8 436.8L472.2 455.6L472.7 435.7L473.1 458.2L473.6 433.3L474.0 457.8L474.5 431.0L474.9 455.4L475.4 435.3L475.8 454.0L476.3 430.0L476.7 452.4L477.2 427.1L477.6 450.4L478.1 425.7L478.5 456.6L479.0 427.7L479.4 454.2L479.9 418.3L480.3 446.4L480.8 417.9L481.2 440.6L481.7 420.3L482.1 458.7L482.6 416.4L483.0 594.3L483.5 415.1L483.9 604.3L484.4 418.0L484.8 602.2L485.3 521.4L485.7 574.2L486.2 528.8L486.6 576.8L487.1 530.5L487.5 575.6L488.0 524.5L488.4 577.0L488.9 407.7L489.3 567.3L489.8 405.6L490.2 598.6L490.7 408.9L491.1 604.9L491.6 402.4L492.0 598.0L492.5 403.7L492.9 612.0L493.4 400.0L493.8 612.8L494.3 399.2L494.7 612.9L495.2 405.2L495.6 514.6L496.1 402.9L496.5 426.7L497.0 396.1L497.4 426.2L497.9 395.0L498.3 429.4L498.8 395.8L499.2 456.6L499.7 399.3L500.1 461.9L500.6 402.2L501.0 459.5L501.5 402.2L501.9 461.4L502.4 397.0L502.8 426.2L503.3 396.7L503.7 420.6L504.2 398.0L504.6 425.4L505.1 398.4L505.5 419.3L506.0 401.8L506.4 422.0L506.9 399.3L507.3 422.1L507.8 404.3L508.2 421.9L508.7 400.6L509.1 428.1L509.6 398.6L510.0 434.7L510.5 397.0L510.9 460.2L511.4 394.0L511.8 589.6L512.3 390.8L512.7 623.5L513.2 391.9L513.6 627.5L514.1 398.1L514.5 642.3L515.0 396.2L515.4 643.7L515.9 392.1L516.3 642.9L516.8 392.9L517.2 647.7L517.7 398.6L518.1 643.8L518.6 395.0L519.0 646.9L519.5 386.8L519.9 611.9L520.4 384.7L520.8 618.2L521.3 383.7L521.7 614.1L522.2 392.2L522.6 412.7L523.1 386.7L523.5 412.2L524.0 394.3L524.4 419.1L524.9 389.5L525.3 421.3L525.8 394.8L526.2 425.2L526.7 391.4L527.1 430.3L527.6 397.9L528.0 433.0L528.5 396.0L528.9 430.1L529.4 397.7L529.8 426.8L530.3 400.5L530.7 417.0L531.2 394.0L531.6 418.1L532.1 394.1L532.5 430.8L533.0 396.7L533.4 436.8L533.9 398.8L534.3 435.3L534.8 390.6L535.2 424.2L535.7 390.0L536.1 413.9L536.6 393.9L537.0 408.8L537.5 388.7L538.0 406.1L538.4 382.8L538.9 406.9L539.3 378.5L539.8 401.5L540.2 381.1L540.7 409.7L541.1 376.6L541.6 423.1L542.0 373.3L542.5 416.3L542.9 377.0L543.4 412.4L543.8 377.4L544.3 413.2L544.7 382.4L545.2 412.5L545.6 378.1L546.1 409.2L546.5 379.6L547.0 413.7L547.4 385.1L547.9 407.4L548.3 384.1L548.8 405.2L549.2 375.8L549.7 405.7L550.1 373.9L550.6 399.5L551.0 373.5L551.5 401.7L551.9 375.9L552.4 405.6L552.8 377.7L553.3 414.3L553.7 385.7L554.2 417.4L554.6 390.1L555.1 423.1L555.5 395.1L556.0 424.8L556.4 393.6L556.9 428.2L557.3 395.3L557.8 420.6L558.2 387.2L558.7 416.2L559.1 391.9L559.6 423.6L560.0 390.6L560.5 430.0L560.9 404.4L561.4 433.6L561.8 400.5L562.3 436.6L562.7 403.3L563.2 433.6L563.6 409.8L564.1 444.9L564.5 431.1L565.0 448.8L565.4 428.1L565.9 451.5L566.3 428.7L566.8 450.0L567.2 430.4L567.7 455.2L568.1 430.1L568.6 453.0L569.0 429.7L569.5 458.1L569.9 434.4L570.4 457.9L570.8 432.0L571.3 458.9L571.7 428.9L572.2 456.3L572.6 430.0L573.1 457.9L573.5 431.4L574.0 458.7L574.4 435.7L574.9 458.6L575.3 436.9L575.8 461.6L576.2 438.4L576.7 466.6L577.1 438.6L577.6 475.8L578.0 444.5L578.5 528.3L578.9 446.1L579.4 529.9L579.8 476.4L580.3 522.5L580.7 488.8L581.2 523.0L581.6 480.3L582.1 519.0L582.5 484.8L583.0 519.7L583.4 479.9L583.9 514.4L584.3 489.1L584.8 518.8L585.2 493.3L585.7 520.6L586.1 486.4L586.6 522.6L587.0 494.2L587.5 528.8L587.9 495.5L588.4 520.9L588.8 498.0L589.3 520.2L589.7 496.1L590.2 520.6L590.6 497.2L591.1 520.7L591.5 495.6L592.0 522.8L592.4 502.1L592.9 523.3L593.3 498.1L593.8 525.9L594.2 501.4L594.7 528.1L595.1 499.1L595.6 534.7L596.0 502.6L596.5 534.6L596.9 510.9L597.4 542.4L597.8 507.8L598.3 542.1L598.7 510.2L599.2 544.1L599.6 512.0L600.1 544.7L600.5 516.8L601.0 539.0L601.4 513.8L601.9 535.4L602.3 506.3L602.8 567.9L603.2 510.7L603.7 560.2L604.1 508.7L604.6 567.6L605.0 528.6L605.5 553.0L605.9 521.2L606.4 547.1L606.8 520.4L607.3 554.5L607.7 522.3L608.2 551.5L608.6 521.7L609.1 560.5L609.5 528.4L610.0 559.7L610.4 531.7L610.9 568.9L611.3 536.2L611.8 568.6L612.2 541.0L612.7 576.6L613.1 545.8L613.6 576.4L614.0 554.2L614.5 583.4L614.9 555.9L615.4 586.6L615.8 561.3L616.3 591.9L616.7 561.9L617.2 592.2L617.6 566.5L618.1 598.7L618.5 568.5L619.0 600.7L619.4 566.7L619.9 601.6L620.3 565.6L620.8 596.7L621.2 565.3L621.7 593.6L622.1 567.5L622.6 598.1L623.0 574.0L623.5 596.3L623.9 575.3L624.4 599.9L624.8 572.1L625.3 595.6L625.7 576.2L626.2 607.6L626.6 577.7L627.1 617.1L627.5 581.8L628.0 610.8L628.4 581.8L628.9 613.5L629.3 587.8L629.8 615.6L630.2 591.4L630.7 621.9L631.1 592.2L631.6 616.4L632.0 594.6L632.5 619.0L632.9 591.7L633.4 623.6L633.8 592.0L634.3 627.8L634.7 595.3L635.2 625.7L635.6 591.8L636.1 629.4L636.5 599.7L637.0 627.5L637.4 601.6L637.9 629.5L638.3 608.2L638.8 631.0L639.2 603.3L639.7 624.1L640.1 593.0L640.6 622.7L641.0 592.1L641.5 630.5L641.9 592.0L642.4 634.4L642.8 610.9L643.3 634.0L643.7 613.7L644.2 635.9L644.6 610.7L645.1 641.4L645.5 506.9L646.0 652.5L646.4 507.2L646.9 654.5L647.3 508.4L647.8 650.3L648.2 579.3L648.7 660.9L649.1 597.8L649.6 660.0L650.0 611.6L650.5 655.7L650.9 617.4L651.4 656.3L651.8 614.1L652.3 661.9L652.7 499.5L653.2 661.1L653.6 504.1L654.1 661.9L654.5 499.5L655.0 661.2L655.4 498.6L655.9 660.0L656.3 505.4L656.8 659.8L657.2 582.4L657.7 655.2L658.1 581.5L658.6 657.3L659.0 579.4L659.5 657.4L659.9 581.0"/>
<path stroke="#a52a2a" d="M414.3 671.0L414.8 669.6L415.2 482.0L415.6 614.7L416.1 480.9L416.5 522.0L417.0 481.1L417.4 517.2L417.9 491.3L418.3 512.7L418.8 487.1L419.2 516.4L419.7 487.6L420.1 517.4L420.6 482.1L421.0 520.1L421.5 483.2L421.9 512.4L422.4 486.8L422.8 517.5L423.3 486.3L423.7 522.5L424.2 487.1L424.6 519.0L425.1 483.5L425.5 535.5L426.0 495.7L426.4 549.5L426.9 492.9L427.3 563.2L427.8 503.1L428.2 570.8L428.7 509.0L429.1 578.3L429.6 516.5L430.0 582.7L430.5 511.8L430.9 587.8L431.4 520.3L431.8 602.9L432.3 515.1L432.7 593.9L433.2 511.8L433.6 602.9L434.1 516.9L434.5 600.5L435.0 510.8L435.4 598.0L435.9 513.2L436.3 550.4L436.8 499.3L437.2 512.5L437.7 480.0L438.1 507.4L438.6 483.0L439.0 505.7L439.5 481.9L439.9 507.9L440.4 480.7L440.8 508.2L441.3 481.1L441.7 506.8L442.2 480.1L442.6 524.4L443.1 489.4L443.5 524.7L444.0 481.1L444.4 525.7L444.9 484.3L445.3 523.8L445.8 480.2L446.2 517.0L446.7 485.7L447.1 501.7L447.6 479.9L448.0 493.4L448.5 478.5L448.9 515.0L449.4 478.5L449.8 541.2L450.3 478.6L450.7 553.9L451.2 482.6L451.6 594.2L452.1 487.9L452.5 608.7L453.0 539.2L453.4 610.6L453.9 530.1L454.3 613.7L454.8 533.8L455.2 608.1L455.7 530.1L456.1 606.6L456.6 533.2L457.0 610.5L457.5 538.3L457.9 615.7L458.4 531.6L458.8 618.5L459.3 531.4L459.7 613.8L460.2 533.8L460.6 612.8L461.1 479.6L461.5 609.0L462.0 484.2L462.4 601.6L462.9 479.9L463.3 563.2L463.8 478.1L464.2 509.0L464.7 477.7L465.1 508.7L465.6 477.6L466.0 507.0L466.5 475.7L466.9 506.8L467.4 475.0L467.8 502.5L468.3 476.8L468.7 500.9L469.2 475.5L469.6 504.3L470.1 480.1L470.5 500.0L471.0 475.6L471.4 504.9L471.9 481.2L472.3 502.4L472.8 478.2L473.2 501.5L473.7 480.1L474.1 503.9L474.6 480.9L475.0 501.2L475.5 480.8L475.9 499.6L476.4 483.3L476.8 505.7L477.3 485.6L477.7 507.3L478.2 479.6L478.6 502.5L479.1 474.1L479.5 510.4L480.0 475.5L480.4 506.1L480.9 485.2L481.3 515.5L481.8 495.1L482.2 531.2L482.7 491.1L483.1 595.0L483.6 492.0L484.0 598.4L484.5 490.0L484.9 601.7L485.4 528.5L485.8 595.4L486.3 520.0L486.7 595.3L487.2 520.8L487.6 600.7L488.1 520.6L488.5 593.3L489.0 494.2L489.4 601.5L489.9 488.8L490.3 598.5L490.8 495.4L491.2 595.3L491.7 496.0L492.1 604.1L492.6 493.6L493.0 607.2L493.5 486.3L493.9 608.9L494.4 485.1L494.8 603.9L495.3 485.4L495.7 522.0L496.2 486.0L496.6 525.4L497.1 490.0L497.5 508.6L498.0 487.6L498.4 506.6L498.9 487.2L499.3 509.0L499.8 492.6L500.2 529.1L500.7 495.5L501.1 528.6L501.6 491.1L502.0 523.6L502.5 491.2L502.9 510.6L503.4 489.0L503.8 512.6L504.3 490.7L504.7 512.9L505.2 493.0L505.6 512.3L506.1 496.8L506.5 511.0L507.0 499.8L507.4 513.8L507.9 501.0L508.3 519.6L508.8 502.5L509.2 531.7L509.7 506.1L510.1 535.3L510.6 504.7L511.0 554.5L511.5 503.0L511.9 609.8L512.4 503.3L512.8 614.6L513.3 503.8L513.7 608.4L514.2 507.6L514.6 612.3L515.1 510.4L515.5 615.4L516.0 503.8L516.4 607.7L516.9 508.7L517.3 616.0L517.8 511.9L518.2 609.1L518.7 509.0L519.1 615.9L519.6 505.0L520.0 616.1L520.5 508.0L520.9 612.2L521.4 507.2L521.8 615.6L522.3 507.7L522.7 529.9L523.2 509.9L523.6 543.3L524.1 511.5L524.5 546.8L525.0 519.1L525.4 546.5L525.9 511.1L526.3 544.4L526.8 509.9L527.2 539.5L527.7 512.8L528.1 556.0L528.6 519.1L529.0 549.3L529.5 508.1L529.9 555.8L530.4 508.9L530.8 553.9L531.3 495.4L531.7 535.9L532.2 496.9L532.6 528.3L533.1 501.8L533.5 529.8L534.0 500.1L534.4 534.5L534.9 498.2L535.3 532.1L535.8 500.3L536.2 519.5L536.7 498.8L537.2 518.3L537.6 500.3L538.1 517.7L538.5 494.2L539.0 520.3L539.4 496.6L539.9 518.7L540.3 492.8L540.8 522.7L541.2 492.7L541.7 544.0L542.1 498.2L542.6 542.9L543.0 505.5L543.5 534.6L543.9 503.6L544.4 528.2L544.8 507.8L545.3 529.4L545.7 503.8L546.2 529.6L546.6 506.2L547.1 533.2L547.5 510.4L548.0 532.8L548.4 507.9L548.9 526.8L549.3 500.9L549.8 525.1L550.2 506.3L550.7 528.6L551.1 501.9L551.6 531.7L552.0 506.4L552.5 536.9L552.9 502.4L553.4 541.8L553.8 512.9L554.3 545.3L554.7 509.4L555.2 545.7L555.6 512.2L556.1 546.8L556.5 517.9L557.0 543.3L557.4 516.1L557.9 546.6L558.3 521.2L558.8 543.6L559.2 519.4L559.7 551.2L560.1 521.4L560.6 549.6L561.0 527.6L561.5 549.9L561.9 524.0L562.4 549.5L562.8 525.6L563.3 559.1L563.7 547.1L564.2 569.8L564.6 540.2L565.1 569.4L565.5 540.8L566.0 569.6L566.4 537.7L566.9 565.3L567.3 537.6L567.8 567.1L568.2 538.2L568.7 565.8L569.1 541.3L569.6 567.2L570.0 537.9L570.5 570.2L570.9 538.6L571.4 572.7L571.8 534.7L572.3 566.1L572.7 534.9L573.2 569.2L573.6 538.9L574.1 570.8L574.5 536.9L575.0 565.3L575.4 543.6L575.9 568.7L576.3 540.8L576.8 570.7L577.2 547.3L577.7 581.0L578.1 559.3L578.6 596.1L579.0 567.8L579.5 601.9L579.9 582.9L580.4 605.6L580.8 581.2L581.3 610.6L581.7 576.4L582.2 602.7L582.6 577.3L583.1 606.3L583.5 580.9L584.0 608.6L584.4 584.7L584.9 608.0L585.3 584.3L585.8 609.2L586.2 584.6L586.7 625.3L587.1 593.5L587.6 629.8L588.0 604.4L588.5 627.6L588.9 603.0L589.4 630.6L589.8 606.0L590.3 634.8L590.7 608.5L591.2 634.9L591.6 603.2L592.1 634.4L592.5 604.4L593.0 639.2L593.4 606.3L593.9 634.7L594.3 608.7L594.8 638.1L595.2 606.2L595.7 639.5L596.1 615.0L596.6 644.0L597.0 621.7L597.5 641.7L597.9 623.4L598.4 639.9L598.8 622.0L599.3 637.5L599.7 622.2L600.2 639.1L600.6 623.9L601.1 642.2L601.5 624.6L602.0 649.0L602.4 624.0L602.9 646.9L603.3 627.4L603.8 646.2L604.2 626.0L604.7 652.4L605.1 634.2L605.6 652.7L606.0 634.6L606.5 654.3L606.9 635.0L607.4 650.8L607.8 632.6L608.3 648.5L608.7 630.5L609.2 649.9L609.6 628.6L610.1 658.2L610.5 635.9L611.0 663.0L611.4 639.0L611.9 663.5L612.3 642.5L612.8 662.5L613.2 648.1L613.7 663.5L614.1 648.7L614.6 660.7L615.0 646.1L615.5 660.0L615.9 647.4L616.4 665.2L616.8 649.3L617.3 664.6L617.7 651.4L618.2 668.4L618.6 651.9L619.1 667.8L619.5 655.4L620.0 669.7L620.4 652.6L620.9 667.8L621.3 655.1L621.8 668.1L622.2 650.0L622.7 664.0L623.1 644.4L623.6 663.5L624.0 648.0L624.5 661.6L624.9 645.0L625.4 660.7L625.8 645.2L626.3 662.9L626.7 644.1L627.2 676.2L627.6 648.0L628.1 676.9L628.5 645.0L629.0 676.6L629.4 660.5L629.9 678.9L630.3 659.0L630.8 676.1L631.2 662.2L631.7 675.1L632.1 661.6L632.6 675.3L633.0 659.6L633.5 678.5L633.9 657.3L634.4 677.8L634.8 655.5L635.3 677.5L635.7 656.5L636.2 679.0L636.6 662.9L637.1 681.9L637.5 667.1L638.0 680.3L638.4 666.0L638.9 683.3L639.3 666.5L639.8 681.6L640.2 656.1L640.7 678.6L641.1 657.0L641.6 680.3L642.0 658.1L642.5 685.5L642.9 664.5L643.4 683.9L643.8 662.3L644.3 685.1L644.7 664.3L645.2 686.1L645.6 661.2L646.1 681.4L646.5 662.4L647.0 684.5L647.4 661.1L647.9 678.8L648.3 662.7L648.8 680.3L649.2 660.2L649.7 683.2L650.1 660.0L650.6 686.3L651.0 666.4L651.5 690.0L651.9 662.3L652.4 691.4L652.8 660.1L653.3 688.0L653.7 660.5L654.2 683.6L654.6 581.9L655.1 634.6L655.5 589.5L656.0 639.6L656.4 579.5L656.9 638.6L657.3 583.2L657.8 683.4L658.2 661.0L658.7 687.5L659.1 659.9L659.6 688.3L660.0 665.3L660.5 689.2L660.9 659.6L661.4 689.1L661.8 664.0L662.3 685.7L662.7 662.2L663.2 690.0L663.6 661.7L664.1 686.5L664.5 661.9L665.0 690.3L665.4 660.6L665.9 692.1L666.3 660.9L666.8 690.1L667.2 662.5L667.7 685.5L668.1 664.3L668.6 691.8L669.0 660.7L669.5 690.2L669.9 660.6L670.4 690.6L670.8 662.2L671.3 690.9L671.7 666.3L672.2 690.5L672.6 664.9L673.1 688.5L673.5 666.4L674.0 690.3L674.4 666.4L674.9 689.7L675.3 670.5L675.8 687.3L676.2 666.7L676.7 690.0L677.1 669.9L677.6 687.1L678.0 670.9L678.5 685.9L678.9 665.0L679.4 690.5L679.8 665.7L680.3 688.5L680.7 667.5L681.2 685.4L681.6 664.5L682.1 689.6L682.5 665.0L683.0 691.0L683.4 668.3L683.9 692.5L684.3 666.2L684.8 687.4L685.2 665.6L685.7 688.0L686.1 670.8L686.6 690.5L687.0 667.3L687.5 690.2L687.9 671.9L688.4 694.7L688.8 673.1L689.3 689.9L689.7 674.3L690.2 695.2L690.6 675.8L691.1 693.1L691.5 671.1L692.0 695.1L692.4 671.5L692.9 690.8L693.3 671.5L693.8 695.5L694.2 672.5L694.7 695.5L695.1 670.2L695.6 695.1L696.0 671.5L696.5 696.6L696.9 668.9L697.4 696.7L697.8 671.3L698.3 696.2L698.7 676.9L699.2 696.8L699.6 677.1L700.1 698.7L700.5 679.8L701.0 695.4L701.4 678.6L701.9 695.9L702.3 675.0L702.8 697.8L703.2 674.6L703.7 696.0L704.1 673.7L704.6 699.3L705.0 670.6L705.5 695.0L705.9 669.0L706.4 697.2L706.8 673.1L707.3 696.5L707.7 678.4L708.2 701.3L708.6 676.8L709.1 702.9L709.5 677.1L710.0 701.2L710.4 675.0L710.9 697.8L711.3 672.2L711.8 701.5L712.2 677.2L712.7 700.7L713.1 672.6L713.6 698.7L714.0 679.5L714.5 700.4L714.9 673.9L715.4 697.6L715.8 675.8L716.3 702.6L716.7 678.1L717.2 702.4L717.6 678.2L718.1 702.1L718.5 677.5L719.0 702.0L719.4 673.3L719.9 696.7L720.3 671.2L720.8 699.3L721.2 670.0L721.7 704.0L722.1 671.4L722.6 678.4L723.0 625.8L723.5 676.7L723.9 620.7L724.4 669.6L724.8 624.0L725.3 678.3L725.7 620.1L726.2 669.7L726.6 575.2L727.1 689.5L727.5 578.0L728.0 710.7L728.4 552.7L728.9 701.9L729.3 506.0L729.8 712.0L730.2 510.4L730.7 677.9L731.1 546.9L731.6 673.5L732.0 621.4"/>
</g>
<rect x="150.5" y="96.5" width="930.0" height="616.0" fill="none" stroke="#000" stroke-width="1.11"/>
<path d="M150.50 712.5v4.86M266.75 712.5v4.86M383.00 712.5v4.86M499.25 712.5v4.86M615.50 712.5v4.86M731.75 712.5v4.86M848.00 712.5v4.86M964.25 712.5v4.86M1080.50 712.5v4.86M150.5 712.50h-4.86M150.5 624.50h-4.86M150.5 536.50h-4.86M150.5 448.50h-4.86M150.5 360.50h-4.86M150.5 272.50h-4.86M150.5 184.50h-4.86M150.5 96.50h-4.86" stroke="#000" stroke-width="1.11" fill="none"/>
<text x="149.80" y="740.6" font-size="24" text-anchor="middle">0</text>
<text x="266.05" y="740.6" font-size="24" text-anchor="middle">3</text>
<text x="382.30" y="740.6" font-size="24" text-anchor="middle">6</text>
<text x="498.55" y="740.6" font-size="24" text-anchor="middle">9</text>
<text x="614.80" y="740.6" font-size="24" text-anchor="middle">12</text>
<text x="731.05" y="740.6" font-size="24" text-anchor="middle">15</text>
<text x="847.30" y="740.6" font-size="24" text-anchor="middle">18</text>
<text x="963.55" y="740.6" font-size="24" text-anchor="middle">21</text>
<text x="1079.80" y="740.6" font-size="24" text-anchor="middle">24</text>
<text x="139.3" y="720.80" font-size="24" text-anchor="end">0</text>
<text x="139.3" y="632.80" font-size="24" text-anchor="end">2</text>
<text x="139.3" y="544.80" font-size="24" text-anchor="end">4</text>
<text x="139.3" y="456.80" font-size="24" text-anchor="end">6</text>
<text x="139.3" y="368.80" font-size="24" text-anchor="end">8</text>
<text x="139.3" y="280.80" font-size="24" text-anchor="end">10</text>
<text x="139.3" y="192.80" font-size="24" text-anchor="end">12</text>
<text x="139.3" y="104.80" font-size="24" text-anchor="end">14</text>
<text x="349.49" y="87.6" font-size="23" textLength="151.26" lengthAdjust="spacingAndGlyphs">GERMANY-DLR</text>
<text x="507.14" y="87.6" font-size="23" textLength="20.17" lengthAdjust="spacingAndGlyphs">of</text>
<text x="534.21" y="87.6" font-size="23" textLength="119.76" lengthAdjust="spacingAndGlyphs">2025/11/29</text>
<text x="661.96" y="87.6" font-size="23" textLength="43.57" lengthAdjust="spacingAndGlyphs">with</text>
<text x="711.49" y="87.6" font-size="23" textLength="54.96" lengthAdjust="spacingAndGlyphs">focus</text>
<text x="773.79" y="87.6" font-size="23" textLength="50.07" lengthAdjust="spacingAndGlyphs">code</text>
<text x="830.80" y="87.6" font-size="23" textLength="16.44" lengthAdjust="spacingAndGlyphs">=</text>
<text x="854.43" y="87.6" font-size="23" textLength="26.05" lengthAdjust="spacingAndGlyphs">02</text>
<text x="518.03" y="765.8" font-size="22.5" textLength="98.55" lengthAdjust="spacingAndGlyphs">Universal</text>
<text x="623.08" y="765.8" font-size="22.5" textLength="51.52" lengthAdjust="spacingAndGlyphs">Time</text>
<text x="679.95" y="765.8" font-size="22.5" textLength="30.48" lengthAdjust="spacingAndGlyphs">[h]</text>
<g transform="translate(101.4,469.8) rotate(-90)">
<text x="-1.08" y="0" font-size="23" textLength="81.14" lengthAdjust="spacingAndGlyphs">Y-factor</text>
<text x="84.57" y="0" font-size="23" textLength="45.71" lengthAdjust="spacingAndGlyphs">[dB]</text>
</g>
<rect x="912.5" y="104.5" width="160" height="168.5" rx="3.5" fill="#fff" fill-opacity="0.8" stroke="#ccc" stroke-width="1.1"/>
<path d="M918 116.90H953" stroke="#0000ff" stroke-width="2.08"/>
<text x="976.44" y="122.80" font-size="16.3" textLength="36.79" lengthAdjust="spacingAndGlyphs">52.8</text>
<text x="1018.95" y="122.80" font-size="16.3" textLength="35.97" lengthAdjust="spacingAndGlyphs">MHz</text>
<path d="M918 140.27H953" stroke="#008000" stroke-width="2.08"/>
<text x="976.44" y="146.17" font-size="16.3" textLength="36.79" lengthAdjust="spacingAndGlyphs">72.5</text>
<text x="1018.95" y="146.17" font-size="16.3" textLength="35.97" lengthAdjust="spacingAndGlyphs">MHz</text>
<path d="M918 163.64H953" stroke="#ff0000" stroke-width="2.08"/>
<text x="971.25" y="169.54" font-size="16.3" textLength="46.81" lengthAdjust="spacingAndGlyphs">151.2</text>
<text x="1024.11" y="169.54" font-size="16.3" textLength="35.39" lengthAdjust="spacingAndGlyphs">MHz</text>
<path d="M918 187.01H953" stroke="#ffa500" stroke-width="2.08"/>
<text x="971.25" y="192.91" font-size="16.3" textLength="46.81" lengthAdjust="spacingAndGlyphs">245.7</text>
<text x="1024.11" y="192.91" font-size="16.3" textLength="35.39" lengthAdjust="spacingAndGlyphs">MHz</text>
<path d="M918 210.38H953" stroke="#ff00ff" stroke-width="2.08"/>
<text x="971.25" y="216.28" font-size="16.3" textLength="46.81" lengthAdjust="spacingAndGlyphs">328.4</text>
<text x="1024.11" y="216.28" font-size="16.3" textLength="35.39" lengthAdjust="spacingAndGlyphs">MHz</text>
<path d="M918 233.75H953" stroke="#a52a2a" stroke-width="2.08"/>
<text x="971.25" y="239.65" font-size="16.3" textLength="46.81" lengthAdjust="spacingAndGlyphs">407.2</text>
<text x="1024.11" y="239.65" font-size="16.3" textLength="35.39" lengthAdjust="spacingAndGlyphs">MHz</text>
<path d="M918 257.12H953" stroke="#a52a2a" stroke-width="2.08"/>
<text x="971.25" y="263.02" font-size="16.3" textLength="46.81" lengthAdjust="spacingAndGlyphs">611.9</text>
<text x="1024.11" y="263.02" font-size="16.3" textLength="35.39" lengthAdjust="spacingAndGlyphs">MHz</text>
</svg></body></html>
